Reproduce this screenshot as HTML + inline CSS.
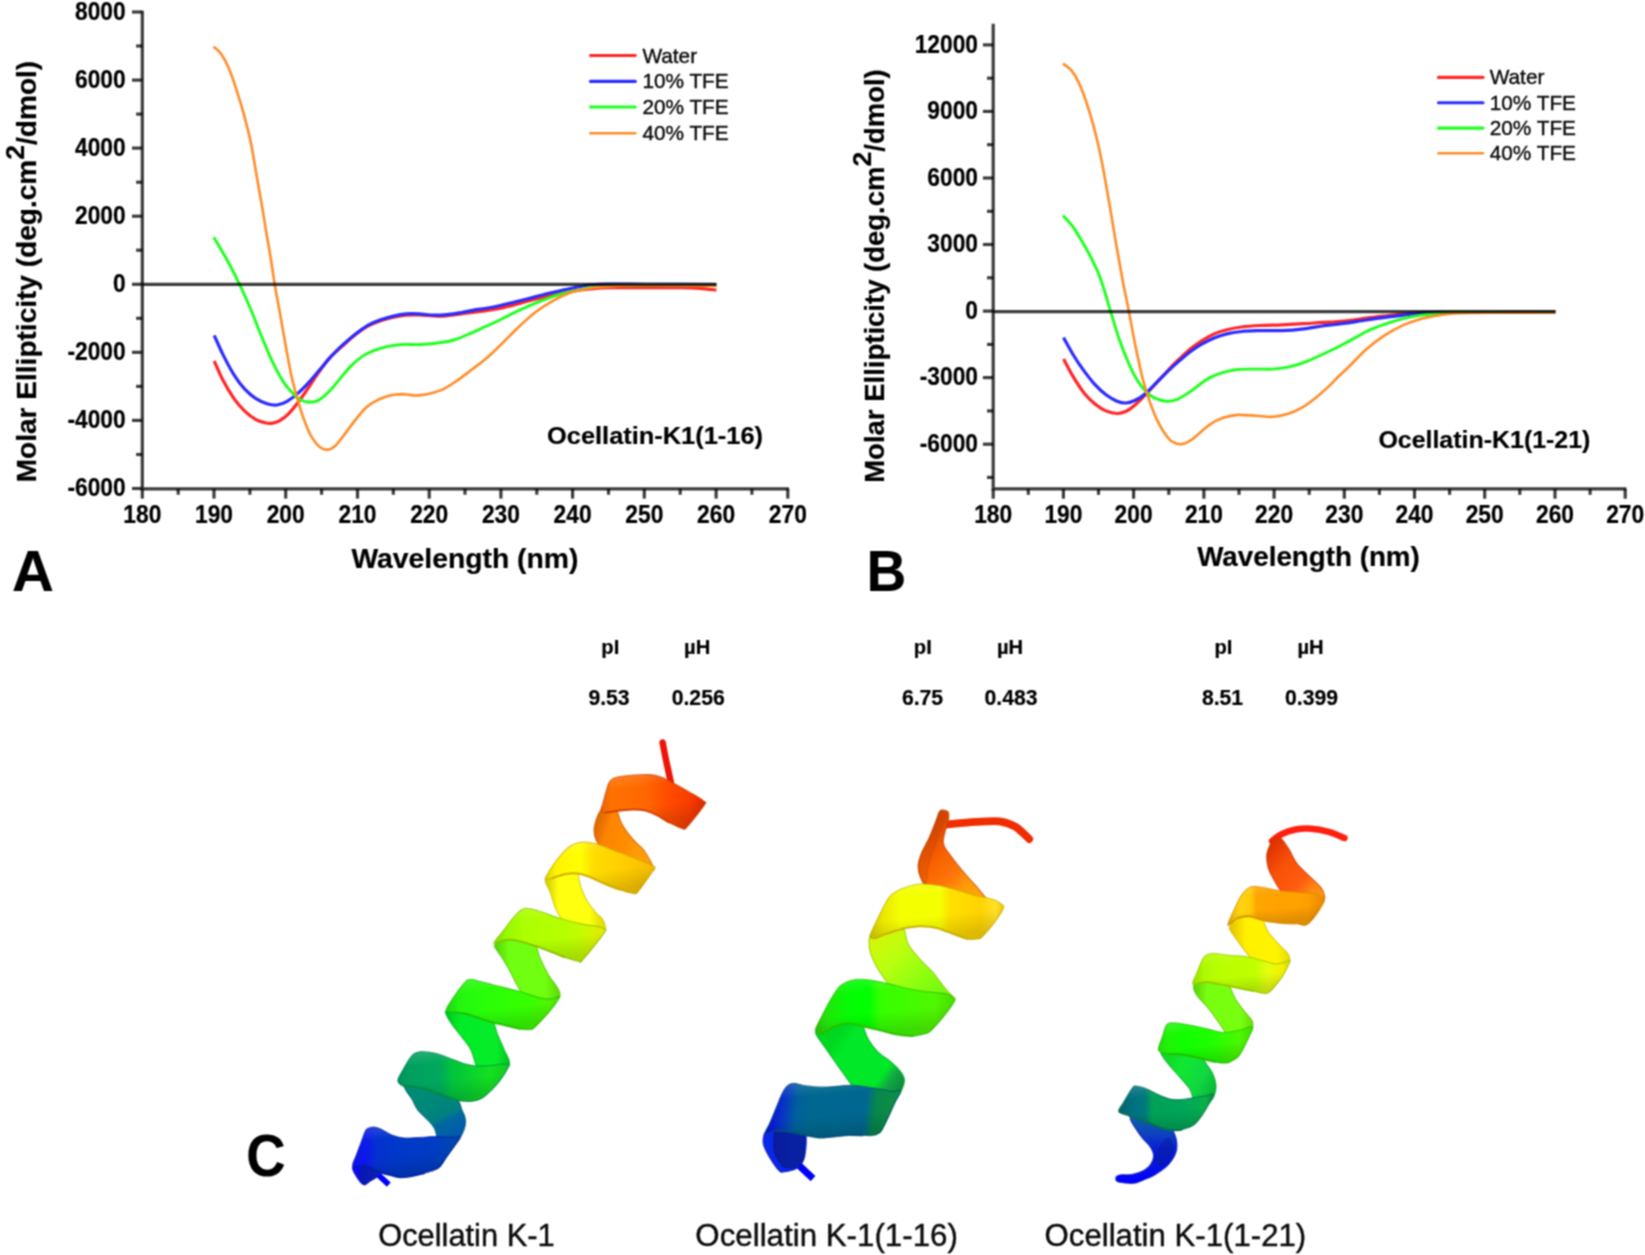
<!DOCTYPE html>
<html lang="en"><head><meta charset="utf-8"><title>CD spectra and helical models of ocellatin peptides</title>
<style>html,body{margin:0;padding:0;background:#fff}svg{display:block}text{font-family:"Liberation Sans",Arial,Helvetica,sans-serif}.b{font-weight:700;stroke:#000;stroke-width:0.2px}</style></head><body>
<svg width="1645" height="1255" viewBox="0 0 1645 1255">
<defs><filter id="soft" x="0" y="0" width="1645" height="1255" filterUnits="userSpaceOnUse" color-interpolation-filters="sRGB"><feConvolveMatrix order="3" kernelMatrix="1 2 1 2 4 2 1 2 1" divisor="16" edgeMode="duplicate" preserveAlpha="false"/></filter></defs>
<g filter="url(#soft)">
<rect width="1645" height="1255" fill="#fff"/>
<g id="chartA">
<g fill="none" stroke-width="3.2" stroke-linejoin="round" stroke-linecap="butt">
<path stroke="#ff2626" d="M214.2 361.0C215.7 364.2 219.7 374.0 223.0 380.3C226.3 386.6 230.3 393.4 234.0 398.6C237.7 403.8 241.3 407.9 245.0 411.4C248.7 414.9 252.7 417.8 256.0 419.7C259.4 421.6 262.5 422.2 265.1 422.8C267.7 423.4 269.1 423.7 271.5 423.3C273.9 422.9 276.9 422.3 279.8 420.6C282.7 418.9 285.9 416.4 289.0 413.3C292.1 410.2 295.1 406.3 298.1 402.3C301.2 398.3 303.9 394.3 307.3 389.4C310.7 384.5 314.6 378.1 318.3 372.9C322.0 367.7 325.3 362.7 329.3 358.3C333.3 353.9 337.8 350.3 342.1 346.4C346.4 342.5 350.6 338.4 354.9 335.0C359.2 331.6 363.5 328.6 367.8 326.2C372.1 323.8 376.3 322.2 380.6 320.7C384.9 319.2 389.1 318.2 393.4 317.3C397.7 316.4 401.9 315.6 406.2 315.2C410.5 314.8 414.5 314.9 419.1 315.0C423.7 315.1 429.1 315.9 433.7 316.0C438.3 316.1 441.9 316.1 446.5 315.8C451.1 315.5 456.3 314.7 461.2 314.0C466.1 313.3 471.9 312.3 475.9 311.8C479.9 311.3 481.3 311.3 485.0 310.8C488.7 310.3 493.0 309.9 498.3 308.8C503.6 307.7 510.5 305.8 516.6 304.2C522.7 302.6 528.9 300.8 535.0 299.3C541.1 297.8 547.2 296.3 553.3 295.0C559.4 293.7 565.5 292.4 571.6 291.4C577.7 290.4 583.9 289.6 590.0 289.0C596.1 288.4 599.1 287.9 608.3 287.7C617.4 287.5 632.7 287.7 644.9 287.7C657.1 287.7 672.4 287.6 681.6 287.7C690.8 287.8 694.2 287.9 700.0 288.3C705.8 288.7 713.7 289.8 716.4 290.1"/>
<path stroke="#2c2cff" d="M214.2 335.4C215.7 338.6 219.7 348.0 223.0 354.6C226.3 361.2 230.3 369.0 234.0 374.8C237.7 380.6 241.3 385.4 245.0 389.4C248.7 393.4 252.3 396.2 256.0 398.6C259.7 401.0 263.5 402.6 267.0 403.7C270.5 404.8 273.6 405.4 277.0 405.0C280.4 404.6 283.6 403.3 287.1 401.3C290.6 399.3 294.4 396.3 298.1 393.1C301.8 389.9 305.4 386.1 309.1 382.1C312.8 378.1 316.4 373.6 320.1 369.3C323.8 365.0 327.4 360.4 331.1 356.4C334.8 352.4 338.1 349.0 342.1 345.4C346.1 341.8 350.6 337.9 354.9 334.5C359.2 331.1 363.5 327.8 367.8 325.3C372.1 322.9 376.3 321.3 380.6 319.8C384.9 318.3 389.1 317.1 393.4 316.1C397.7 315.1 401.9 314.3 406.2 313.9C410.5 313.5 414.5 313.7 419.1 313.9C423.7 314.1 429.1 315.1 433.7 315.2C438.3 315.3 441.9 315.1 446.5 314.7C451.1 314.2 456.3 313.3 461.2 312.5C466.1 311.7 471.9 310.4 475.9 309.7C479.9 309.0 481.3 309.1 485.0 308.5C488.7 307.9 493.0 307.2 498.3 306.0C503.6 304.8 510.5 303.0 516.6 301.5C522.7 300.0 528.9 298.4 535.0 296.9C541.1 295.4 547.2 293.7 553.3 292.3C559.4 290.9 565.5 289.5 571.6 288.3C577.7 287.1 583.9 285.7 590.0 285.0C596.1 284.3 598.3 284.1 608.3 284.0C618.3 283.9 632.0 284.2 650.0 284.3C668.0 284.4 705.3 284.6 716.4 284.6"/>
<path stroke="#1eff1e" d="M213.8 237.3C216.0 241.0 222.4 251.5 226.7 259.3C231.0 267.1 235.5 276.1 239.5 284.4C243.5 292.6 246.8 300.1 250.5 308.8C254.2 317.5 257.8 327.5 261.5 336.3C265.2 345.1 268.8 354.3 272.5 361.9C276.2 369.5 280.1 376.9 283.5 382.1C286.9 387.3 289.9 390.2 292.6 393.1C295.4 396.0 297.2 398.0 300.0 399.5C302.8 401.0 306.1 402.2 309.1 402.3C312.2 402.4 314.9 402.2 318.3 400.4C321.7 398.6 325.6 395.0 329.3 391.3C333.0 387.6 336.6 382.7 340.3 378.4C344.0 374.1 347.6 369.3 351.3 365.6C355.0 361.9 358.7 358.8 362.3 356.4C365.9 353.9 368.9 352.6 373.2 350.9C377.5 349.2 383.0 347.5 387.9 346.4C392.8 345.3 397.1 344.8 402.6 344.5C408.1 344.2 414.8 344.8 420.9 344.5C427.0 344.2 433.7 343.4 439.2 342.7C444.7 341.9 448.4 341.7 453.9 340.0C459.4 338.3 467.0 334.8 472.2 332.6C477.4 330.4 480.6 328.8 485.0 326.8C489.4 324.8 493.0 323.2 498.3 320.7C503.6 318.1 510.5 314.4 516.6 311.5C522.7 308.6 528.9 305.8 535.0 303.3C541.1 300.8 547.2 298.3 553.3 296.3C559.4 294.3 565.5 292.8 571.6 291.4C577.7 290.0 583.9 288.6 590.0 287.7C596.1 286.8 599.1 286.3 608.3 285.9C617.4 285.4 632.9 285.1 644.9 285.0C656.9 284.9 668.1 285.1 680.0 285.2C691.9 285.3 710.3 285.4 716.4 285.5" stroke-width="2.9"/>
<path stroke="#ff8c28" d="M213.5 46.6C214.8 47.8 218.7 50.4 221.2 53.9C223.7 57.4 226.1 61.9 228.5 67.6C230.9 73.2 233.4 80.5 235.8 87.8C238.2 95.1 240.7 102.8 243.1 111.6C245.5 120.4 248.3 130.8 250.5 140.9C252.7 151.0 254.2 161.7 256.0 172.1C257.8 182.5 259.8 193.5 261.5 203.3C263.2 213.1 264.5 221.7 266.0 230.7C267.5 239.7 269.2 248.6 270.6 257.5C272.1 266.4 273.2 275.2 274.7 284.4C276.2 293.6 278.0 302.6 279.8 312.5C281.6 322.4 283.5 333.5 285.3 343.6C287.1 353.7 289.0 364.3 290.8 372.9C292.6 381.4 294.5 388.2 296.3 394.9C298.1 401.6 300.0 407.8 301.8 413.3C303.6 418.8 305.5 423.6 307.3 427.9C309.1 432.2 310.7 435.7 312.8 438.9C314.9 442.1 317.7 445.4 320.1 447.2C322.5 449.0 324.9 450.1 327.4 449.9C329.8 449.7 332.1 448.6 334.8 446.2C337.6 443.8 340.5 439.5 343.9 435.2C347.2 430.9 351.2 425.2 354.9 420.6C358.6 416.0 362.2 411.2 365.9 407.8C369.6 404.4 372.9 402.4 376.9 400.4C380.9 398.4 386.5 396.6 389.7 395.6C392.9 394.6 393.9 394.8 396.0 394.5C398.1 394.2 400.4 394.1 402.6 394.1C404.8 394.2 406.9 394.6 409.0 394.8C411.1 395.0 413.2 395.5 415.4 395.5C417.6 395.5 419.9 395.2 422.0 395.0C424.1 394.8 424.7 394.9 428.2 394.0C431.7 393.1 438.0 391.7 442.9 389.4C447.8 387.1 452.6 383.6 457.5 380.3C462.4 377.0 467.6 372.8 472.2 369.3C476.8 365.8 480.6 363.2 485.0 359.5C489.4 355.8 493.0 352.4 498.3 347.3C503.6 342.2 510.5 334.8 516.6 329.0C522.7 323.2 528.9 317.2 535.0 312.5C541.1 307.8 547.2 304.0 553.3 300.6C559.4 297.2 565.5 294.4 571.6 292.3C577.7 290.2 583.9 289.3 590.0 288.3C596.1 287.3 599.1 286.9 608.3 286.4C617.4 285.9 632.9 285.4 644.9 285.3C656.9 285.2 668.1 285.4 680.0 285.5C691.9 285.6 710.3 285.8 716.4 285.9" stroke-width="2.6"/>
</g>
<g stroke="#000" stroke-width="3.2" stroke-opacity="0.76" fill="none" stroke-linecap="butt">
<path d="M142.3 10.8 V488.8 H788.9"/>
<path d="M132.0 12.0H142.3"/>
<path d="M136.1 46.0H142.3"/>
<path d="M132.0 80.1H142.3"/>
<path d="M136.1 114.1H142.3"/>
<path d="M132.0 148.1H142.3"/>
<path d="M136.1 182.2H142.3"/>
<path d="M132.0 216.2H142.3"/>
<path d="M136.1 250.2H142.3"/>
<path d="M132.0 284.3H142.3"/>
<path d="M136.1 318.3H142.3"/>
<path d="M132.0 352.3H142.3"/>
<path d="M136.1 386.4H142.3"/>
<path d="M132.0 420.4H142.3"/>
<path d="M136.1 454.5H142.3"/>
<path d="M132.0 488.5H142.3"/>
<path d="M142.3 488.8V498.6"/>
<path d="M178.2 488.8V494.7"/>
<path d="M214.0 488.8V498.6"/>
<path d="M249.9 488.8V494.7"/>
<path d="M285.7 488.8V498.6"/>
<path d="M321.6 488.8V494.7"/>
<path d="M357.5 488.8V498.6"/>
<path d="M393.3 488.8V494.7"/>
<path d="M429.2 488.8V498.6"/>
<path d="M465.0 488.8V494.7"/>
<path d="M500.9 488.8V498.6"/>
<path d="M536.8 488.8V494.7"/>
<path d="M572.6 488.8V498.6"/>
<path d="M608.5 488.8V494.7"/>
<path d="M644.3 488.8V498.6"/>
<path d="M680.2 488.8V494.7"/>
<path d="M716.1 488.8V498.6"/>
<path d="M751.9 488.8V494.7"/>
<path d="M787.8 488.8V498.6"/>
<path d="M142.3 284.4H716.4" stroke-width="3.2"/>
</g>
<g class="b" font-size="22.8" fill="#000">
<text transform="translate(125.7 19.6) scale(1 1.13)" text-anchor="end">8000</text>
<text transform="translate(125.7 87.7) scale(1 1.13)" text-anchor="end">6000</text>
<text transform="translate(125.7 155.7) scale(1 1.13)" text-anchor="end">4000</text>
<text transform="translate(125.7 223.8) scale(1 1.13)" text-anchor="end">2000</text>
<text transform="translate(125.7 291.9) scale(1 1.13)" text-anchor="end">0</text>
<text transform="translate(125.7 359.9) scale(1 1.13)" text-anchor="end">-2000</text>
<text transform="translate(125.7 428.0) scale(1 1.13)" text-anchor="end">-4000</text>
<text transform="translate(125.7 496.1) scale(1 1.13)" text-anchor="end">-6000</text>
<text transform="translate(142.3 522.9) scale(1 1.10)" text-anchor="middle">180</text>
<text transform="translate(214.0 522.9) scale(1 1.10)" text-anchor="middle">190</text>
<text transform="translate(285.7 522.9) scale(1 1.10)" text-anchor="middle">200</text>
<text transform="translate(357.5 522.9) scale(1 1.10)" text-anchor="middle">210</text>
<text transform="translate(429.2 522.9) scale(1 1.10)" text-anchor="middle">220</text>
<text transform="translate(500.9 522.9) scale(1 1.10)" text-anchor="middle">230</text>
<text transform="translate(572.6 522.9) scale(1 1.10)" text-anchor="middle">240</text>
<text transform="translate(644.3 522.9) scale(1 1.10)" text-anchor="middle">250</text>
<text transform="translate(716.1 522.9) scale(1 1.10)" text-anchor="middle">260</text>
<text transform="translate(787.8 522.9) scale(1 1.10)" text-anchor="middle">270</text>
</g>
<g stroke-width="3.1" fill="none" stroke-linecap="round">
<path stroke="#ff2626" d="M590.5 55.5H635.3"/>
<path stroke="#2c2cff" d="M590.5 81.4H635.3"/>
<path stroke="#1eff1e" d="M590.5 107.0H635.3"/>
<path stroke="#ff8c28" d="M590.5 133.2H635.3" stroke-width="2.6"/>
</g><g font-size="20.8" fill="#0c0c0c" stroke="#0c0c0c" stroke-width="0.4">
<text x="642.4" y="62.8">Water</text>
<text x="642.4" y="88.4">10% TFE</text>
<text x="642.4" y="114.3">20% TFE</text>
<text x="642.4" y="140.2">40% TFE</text>
</g>
<text class="b" font-size="28.05" transform="translate(35.8 482.3) rotate(-90)">Molar Ellipticity (deg.cm<tspan font-size="26.5" dy="-12.3">2</tspan><tspan dy="12.3">/dmol)</tspan></text>
<text class="b" font-size="28.1" x="351.4" y="567.7" textLength="227" lengthAdjust="spacingAndGlyphs">Wavelength (nm)</text>
<text class="b" font-size="24" x="547" y="443.5" textLength="216" lengthAdjust="spacingAndGlyphs">Ocellatin-K1(1-16)</text>
<text class="b" font-size="58" x="11.9" y="590.9">A</text>
</g>
<g id="chartB">
<g fill="none" stroke-width="3.2" stroke-linejoin="round" stroke-linecap="butt">
<path stroke="#ff2626" d="M1063.5 359.0C1065.1 361.9 1069.6 370.8 1073.0 376.4C1076.4 382.0 1080.3 388.3 1084.0 392.9C1087.7 397.5 1091.3 400.9 1095.0 403.9C1098.7 406.9 1102.3 409.3 1106.0 410.9C1109.7 412.5 1113.7 413.4 1117.0 413.5C1120.3 413.6 1123.0 412.8 1126.1 411.3C1129.1 409.9 1131.9 407.7 1135.3 404.8C1138.7 401.9 1142.6 397.6 1146.3 393.8C1150.0 390.0 1153.6 385.9 1157.3 381.9C1161.0 377.9 1164.6 373.8 1168.3 370.0C1172.0 366.2 1175.6 362.5 1179.3 359.0C1183.0 355.5 1186.6 352.0 1190.3 349.0C1194.0 346.0 1197.3 343.6 1201.3 341.1C1205.3 338.6 1209.8 335.8 1214.1 333.9C1218.4 332.0 1222.3 330.8 1226.9 329.7C1231.5 328.6 1236.1 327.7 1241.6 327.0C1247.1 326.3 1253.2 325.9 1259.9 325.5C1266.6 325.1 1274.6 325.1 1281.9 324.8C1289.2 324.5 1297.2 324.1 1303.9 323.7C1310.6 323.3 1317.0 322.7 1322.2 322.4C1327.4 322.1 1330.7 322.2 1335.0 321.9C1339.3 321.6 1343.0 321.2 1348.3 320.6C1353.6 320.0 1360.5 319.0 1366.6 318.2C1372.7 317.4 1378.9 316.7 1385.0 316.0C1391.1 315.3 1397.2 314.6 1403.3 314.1C1409.4 313.6 1415.5 313.2 1421.6 312.9C1427.7 312.6 1428.6 312.4 1440.0 312.3C1451.4 312.2 1470.8 312.1 1490.0 312.0C1509.2 311.9 1544.5 311.9 1555.4 311.9"/>
<path stroke="#2c2cff" d="M1063.5 337.6C1065.1 340.4 1069.6 348.9 1073.0 354.5C1076.4 360.1 1080.3 365.9 1084.0 370.9C1087.7 375.9 1091.3 380.7 1095.0 384.7C1098.7 388.7 1102.3 392.1 1106.0 394.8C1109.7 397.6 1113.7 399.8 1117.0 401.2C1120.3 402.6 1123.0 403.1 1126.1 403.0C1129.1 402.9 1131.9 402.0 1135.3 400.3C1138.7 398.6 1142.6 396.0 1146.3 392.9C1150.0 389.8 1153.6 385.6 1157.3 381.9C1161.0 378.2 1164.6 374.4 1168.3 370.9C1172.0 367.4 1175.6 364.1 1179.3 360.9C1183.0 357.7 1186.6 354.4 1190.3 351.7C1194.0 348.9 1197.3 346.7 1201.3 344.4C1205.3 342.1 1209.8 339.8 1214.1 338.0C1218.4 336.2 1222.3 335.0 1226.9 333.9C1231.5 332.8 1236.1 332.1 1241.6 331.5C1247.1 330.9 1253.2 330.8 1259.9 330.6C1266.6 330.5 1274.6 330.9 1281.9 330.6C1289.2 330.3 1297.2 329.6 1303.9 328.8C1310.6 328.0 1317.0 326.7 1322.2 326.0C1327.4 325.3 1330.7 325.0 1335.0 324.5C1339.3 324.0 1343.0 323.6 1348.3 322.9C1353.6 322.1 1360.5 320.9 1366.6 320.0C1372.7 319.1 1378.9 318.2 1385.0 317.4C1391.1 316.6 1397.2 315.8 1403.3 315.1C1409.4 314.4 1415.5 313.7 1421.6 313.2C1427.7 312.7 1428.6 312.5 1440.0 312.3C1451.4 312.1 1470.8 312.1 1490.0 312.0C1509.2 311.9 1544.5 311.9 1555.4 311.9"/>
<path stroke="#1eff1e" d="M1062.9 215.4C1064.6 217.3 1069.8 222.5 1073.0 226.9C1076.2 231.3 1079.0 236.4 1082.1 241.6C1085.1 246.8 1088.5 252.7 1091.3 258.1C1094.0 263.5 1096.4 268.3 1098.6 273.8C1100.8 279.3 1102.5 284.7 1104.5 291.0C1106.5 297.3 1108.2 303.6 1110.6 311.4C1113.0 319.2 1115.9 329.6 1118.8 338.0C1121.7 346.4 1125.0 354.8 1128.0 361.8C1131.0 368.8 1134.0 375.1 1137.1 380.1C1140.1 385.1 1143.2 388.9 1146.3 392.0C1149.3 395.1 1152.1 396.9 1155.4 398.4C1158.8 399.9 1162.7 401.0 1166.4 401.2C1170.1 401.4 1173.7 400.7 1177.4 399.3C1181.1 397.9 1184.7 395.3 1188.4 392.9C1192.1 390.5 1195.7 387.3 1199.4 384.7C1203.1 382.1 1206.4 379.4 1210.4 377.4C1214.4 375.3 1218.6 373.7 1223.2 372.4C1227.8 371.1 1232.4 370.1 1237.9 369.5C1243.4 368.9 1250.4 369.2 1256.2 369.1C1262.0 369.0 1267.2 369.5 1272.7 369.1C1278.2 368.7 1283.7 368.1 1289.2 366.9C1294.7 365.7 1300.2 363.9 1305.7 361.8C1311.2 359.7 1317.3 356.7 1322.2 354.5C1327.1 352.3 1330.7 350.6 1335.0 348.5C1339.3 346.4 1343.0 344.4 1348.3 341.6C1353.6 338.8 1360.5 334.4 1366.6 331.5C1372.7 328.6 1378.9 326.3 1385.0 324.2C1391.1 322.1 1397.2 320.2 1403.3 318.7C1409.4 317.2 1415.5 316.0 1421.6 315.1C1427.7 314.2 1433.9 313.7 1440.0 313.2C1446.1 312.7 1448.3 312.4 1458.3 312.3C1468.3 312.2 1483.8 312.3 1500.0 312.3C1516.2 312.3 1546.2 312.3 1555.4 312.3" stroke-width="2.9"/>
<path stroke="#ff8c28" d="M1062.9 63.5C1064.3 64.6 1068.6 67.1 1071.2 70.2C1073.8 73.3 1076.1 77.0 1078.5 82.1C1080.9 87.1 1083.4 93.5 1085.8 100.5C1088.2 107.5 1091.0 116.7 1093.1 124.3C1095.2 131.9 1096.8 138.1 1098.6 146.3C1100.4 154.6 1102.3 164.0 1104.1 173.8C1105.9 183.6 1107.8 194.2 1109.6 204.9C1111.4 215.6 1113.3 227.2 1115.1 237.9C1116.9 248.6 1119.2 261.1 1120.6 269.1C1122.0 277.1 1122.3 278.9 1123.7 286.0C1125.1 293.1 1127.0 301.5 1128.9 311.4C1130.8 321.3 1133.0 334.1 1135.3 345.3C1137.6 356.5 1140.2 368.8 1142.6 378.3C1145.0 387.8 1147.5 395.1 1149.9 402.1C1152.4 409.1 1154.8 415.2 1157.3 420.4C1159.8 425.6 1162.2 429.7 1164.6 433.2C1167.0 436.7 1169.2 439.7 1171.9 441.5C1174.7 443.3 1178.0 444.3 1181.1 444.2C1184.2 444.1 1187.2 442.4 1190.3 440.6C1193.3 438.8 1196.1 435.9 1199.4 433.2C1202.8 430.4 1206.4 426.7 1210.4 424.1C1214.4 421.5 1218.6 419.2 1223.2 417.7C1227.8 416.2 1232.4 415.2 1237.9 414.9C1243.4 414.6 1250.4 415.5 1256.2 415.8C1262.0 416.1 1267.5 417.1 1272.7 416.8C1277.9 416.5 1282.5 415.5 1287.4 414.0C1292.3 412.5 1297.4 410.2 1302.0 407.6C1306.6 405.0 1310.6 401.8 1314.9 398.4C1319.2 395.0 1323.9 391.0 1327.7 387.4C1331.5 383.8 1334.6 380.4 1338.0 377.0C1341.4 373.6 1343.5 372.0 1348.3 367.3C1353.1 362.6 1360.5 354.4 1366.6 349.0C1372.7 343.6 1378.9 339.2 1385.0 335.2C1391.1 331.2 1397.2 327.9 1403.3 325.1C1409.4 322.4 1415.5 320.4 1421.6 318.7C1427.7 317.0 1433.9 316.0 1440.0 315.1C1446.1 314.2 1449.1 313.6 1458.3 313.2C1467.5 312.8 1478.7 312.8 1494.9 312.7C1511.1 312.6 1545.3 312.7 1555.4 312.7" stroke-width="2.6"/>
</g>
<g stroke="#000" stroke-width="3.2" stroke-opacity="0.76" fill="none" stroke-linecap="butt">
<path d="M993.2 23.8 V488.9 H1626.4"/>
<path d="M982.9 44.9H993.2"/>
<path d="M987.0 78.2H993.2"/>
<path d="M982.9 111.4H993.2"/>
<path d="M987.0 144.7H993.2"/>
<path d="M982.9 178.0H993.2"/>
<path d="M987.0 211.3H993.2"/>
<path d="M982.9 244.5H993.2"/>
<path d="M987.0 277.8H993.2"/>
<path d="M982.9 311.1H993.2"/>
<path d="M987.0 344.4H993.2"/>
<path d="M982.9 377.6H993.2"/>
<path d="M987.0 410.9H993.2"/>
<path d="M982.9 444.2H993.2"/>
<path d="M987.0 477.4H993.2"/>
<path d="M993.2 488.9V498.7"/>
<path d="M1028.3 488.9V494.8"/>
<path d="M1063.4 488.9V498.7"/>
<path d="M1098.5 488.9V494.8"/>
<path d="M1133.6 488.9V498.7"/>
<path d="M1168.8 488.9V494.8"/>
<path d="M1203.9 488.9V498.7"/>
<path d="M1239.0 488.9V494.8"/>
<path d="M1274.1 488.9V498.7"/>
<path d="M1309.2 488.9V494.8"/>
<path d="M1344.3 488.9V498.7"/>
<path d="M1379.4 488.9V494.8"/>
<path d="M1414.5 488.9V498.7"/>
<path d="M1449.6 488.9V494.8"/>
<path d="M1484.7 488.9V498.7"/>
<path d="M1519.8 488.9V494.8"/>
<path d="M1555.0 488.9V498.7"/>
<path d="M1590.1 488.9V494.8"/>
<path d="M1625.2 488.9V498.7"/>
<path d="M993.2 311.6H1555.4" stroke-width="3.2"/>
</g>
<g class="b" font-size="22.8" fill="#000">
<text transform="translate(978.0 52.5) scale(1 1.13)" text-anchor="end">12000</text>
<text transform="translate(978.0 119.0) scale(1 1.13)" text-anchor="end">9000</text>
<text transform="translate(978.0 185.6) scale(1 1.13)" text-anchor="end">6000</text>
<text transform="translate(978.0 252.1) scale(1 1.13)" text-anchor="end">3000</text>
<text transform="translate(978.0 318.7) scale(1 1.13)" text-anchor="end">0</text>
<text transform="translate(978.0 385.2) scale(1 1.13)" text-anchor="end">-3000</text>
<text transform="translate(978.0 451.8) scale(1 1.13)" text-anchor="end">-6000</text>
<text transform="translate(993.2 522.9) scale(1 1.10)" text-anchor="middle">180</text>
<text transform="translate(1063.4 522.9) scale(1 1.10)" text-anchor="middle">190</text>
<text transform="translate(1133.6 522.9) scale(1 1.10)" text-anchor="middle">200</text>
<text transform="translate(1203.9 522.9) scale(1 1.10)" text-anchor="middle">210</text>
<text transform="translate(1274.1 522.9) scale(1 1.10)" text-anchor="middle">220</text>
<text transform="translate(1344.3 522.9) scale(1 1.10)" text-anchor="middle">230</text>
<text transform="translate(1414.5 522.9) scale(1 1.10)" text-anchor="middle">240</text>
<text transform="translate(1484.7 522.9) scale(1 1.10)" text-anchor="middle">250</text>
<text transform="translate(1555.0 522.9) scale(1 1.10)" text-anchor="middle">260</text>
<text transform="translate(1625.2 522.9) scale(1 1.10)" text-anchor="middle">270</text>
</g>
<g stroke-width="3.1" fill="none" stroke-linecap="round">
<path stroke="#ff2626" d="M1438.5 77.4H1483.0"/>
<path stroke="#2c2cff" d="M1438.5 102.8H1483.0"/>
<path stroke="#1eff1e" d="M1438.5 128.1H1483.0"/>
<path stroke="#ff8c28" d="M1438.5 153.2H1483.0" stroke-width="2.6"/>
</g><g font-size="20.8" fill="#0c0c0c" stroke="#0c0c0c" stroke-width="0.4">
<text x="1489.7" y="84.3">Water</text>
<text x="1489.7" y="109.8">10% TFE</text>
<text x="1489.7" y="135.4">20% TFE</text>
<text x="1489.7" y="160.4">40% TFE</text>
</g>
<text class="b" font-size="27.50" transform="translate(883.6 482.8) rotate(-90)">Molar Ellipticity (deg.cm<tspan font-size="26.5" dy="-12.3">2</tspan><tspan dy="12.3">/dmol)</tspan></text>
<text class="b" font-size="27.7" x="1197.2" y="566.4" textLength="222.6" lengthAdjust="spacingAndGlyphs">Wavelength (nm)</text>
<text class="b" font-size="24" x="1378.4" y="448.2" textLength="212" lengthAdjust="spacingAndGlyphs">Ocellatin-K1(1-21)</text>
<text class="b" font-size="58" transform="translate(866.6 590.9) scale(0.95 1)">B</text>
</g>
<defs><linearGradient id="g1" gradientUnits="userSpaceOnUse" x1="596.0" y1="830.0" x2="640.0" y2="845.0"><stop offset="0.000" stop-color="#e06c00"/><stop offset="0.250" stop-color="#ff8400"/><stop offset="0.700" stop-color="#ff8c00"/><stop offset="1.000" stop-color="#ff9c08"/></linearGradient><linearGradient id="g2" gradientUnits="userSpaceOnUse" x1="548.0" y1="900.0" x2="600.0" y2="900.0"><stop offset="0.000" stop-color="#d8d400"/><stop offset="0.200" stop-color="#ffff10"/><stop offset="0.800" stop-color="#ffff10"/><stop offset="1.000" stop-color="#e4e000"/></linearGradient><linearGradient id="g3" gradientUnits="userSpaceOnUse" x1="497.0" y1="970.0" x2="557.0" y2="970.0"><stop offset="0.000" stop-color="#58d808"/><stop offset="0.200" stop-color="#70ff10"/><stop offset="0.800" stop-color="#70ff10"/><stop offset="1.000" stop-color="#60e008"/></linearGradient><linearGradient id="g4" gradientUnits="userSpaceOnUse" x1="448.0" y1="1040.0" x2="508.0" y2="1040.0"><stop offset="0.000" stop-color="#00c820"/><stop offset="0.200" stop-color="#00ec28"/><stop offset="0.800" stop-color="#08ec28"/><stop offset="1.000" stop-color="#00c828"/></linearGradient><linearGradient id="g5" gradientUnits="userSpaceOnUse" x1="425.0" y1="1092.0" x2="455.0" y2="1150.0"><stop offset="0.000" stop-color="#008c74"/><stop offset="0.450" stop-color="#008080"/><stop offset="0.550" stop-color="#0068a0"/><stop offset="1.000" stop-color="#0050b0"/></linearGradient><linearGradient id="g6" gradientUnits="userSpaceOnUse" x1="601.0" y1="0.0" x2="705.0" y2="0.0"><stop offset="0.000" stop-color="#e86800"/><stop offset="0.106" stop-color="#ff7000"/><stop offset="0.423" stop-color="#ff6800"/><stop offset="0.644" stop-color="#ff4c00"/><stop offset="0.856" stop-color="#fa3c00"/><stop offset="1.000" stop-color="#e02800"/></linearGradient><linearGradient id="g7" gradientUnits="userSpaceOnUse" x1="544.0" y1="0.0" x2="655.0" y2="0.0"><stop offset="0.000" stop-color="#d8cc00"/><stop offset="0.108" stop-color="#fff400"/><stop offset="0.324" stop-color="#ffff00"/><stop offset="0.450" stop-color="#ffdc00"/><stop offset="0.730" stop-color="#ffcc00"/><stop offset="1.000" stop-color="#f4bc00"/></linearGradient><linearGradient id="g8" gradientUnits="userSpaceOnUse" x1="493.0" y1="0.0" x2="606.0" y2="0.0"><stop offset="0.000" stop-color="#78d800"/><stop offset="0.115" stop-color="#98f800"/><stop offset="0.283" stop-color="#acff00"/><stop offset="0.681" stop-color="#b8ff00"/><stop offset="0.858" stop-color="#d0f800"/><stop offset="1.000" stop-color="#e8e400"/></linearGradient><linearGradient id="g9" gradientUnits="userSpaceOnUse" x1="445.0" y1="0.0" x2="561.0" y2="0.0"><stop offset="0.000" stop-color="#18d018"/><stop offset="0.112" stop-color="#24f410"/><stop offset="0.345" stop-color="#28ff08"/><stop offset="0.733" stop-color="#38ff00"/><stop offset="0.905" stop-color="#50f400"/><stop offset="1.000" stop-color="#48d800"/></linearGradient><linearGradient id="g10" gradientUnits="userSpaceOnUse" x1="397.0" y1="0.0" x2="510.0" y2="0.0"><stop offset="0.000" stop-color="#008c5c"/><stop offset="0.115" stop-color="#00a060"/><stop offset="0.381" stop-color="#00a85c"/><stop offset="0.487" stop-color="#00c43c"/><stop offset="0.823" stop-color="#14e020"/><stop offset="1.000" stop-color="#10c820"/></linearGradient><linearGradient id="g11" gradientUnits="userSpaceOnUse" x1="351.0" y1="0.0" x2="381.0" y2="0.0"><stop offset="0.000" stop-color="#0c0cf0"/><stop offset="0.267" stop-color="#0a0ae8"/><stop offset="0.350" stop-color="#0818b0"/><stop offset="1.000" stop-color="#0820b8"/></linearGradient><linearGradient id="g12" gradientUnits="userSpaceOnUse" x1="352.0" y1="0.0" x2="462.0" y2="0.0"><stop offset="0.000" stop-color="#1010f0"/><stop offset="0.145" stop-color="#0a1ce8"/><stop offset="0.218" stop-color="#0430d0"/><stop offset="0.391" stop-color="#0038c8"/><stop offset="0.755" stop-color="#003cc4"/><stop offset="0.891" stop-color="#0044b0"/><stop offset="1.000" stop-color="#004898"/></linearGradient><linearGradient id="g13" gradientUnits="userSpaceOnUse" x1="925.0" y1="832.0" x2="985.0" y2="900.0"><stop offset="0.000" stop-color="#d84400"/><stop offset="0.300" stop-color="#f86000"/><stop offset="0.550" stop-color="#ff7408"/><stop offset="0.750" stop-color="#ff9c08"/><stop offset="1.000" stop-color="#ffa808"/></linearGradient><linearGradient id="g14" gradientUnits="userSpaceOnUse" x1="0.0" y1="810.0" x2="0.0" y2="885.0"><stop offset="0.000" stop-color="#c84000"/><stop offset="1.000" stop-color="#e05800"/></linearGradient><linearGradient id="g15" gradientUnits="userSpaceOnUse" x1="882.0" y1="935.0" x2="935.0" y2="995.0"><stop offset="0.000" stop-color="#d0f808"/><stop offset="0.350" stop-color="#b8ff10"/><stop offset="0.700" stop-color="#90ff10"/><stop offset="1.000" stop-color="#78f810"/></linearGradient><linearGradient id="g16" gradientUnits="userSpaceOnUse" x1="835.0" y1="1040.0" x2="905.0" y2="1090.0"><stop offset="0.000" stop-color="#00d820"/><stop offset="0.150" stop-color="#00e828"/><stop offset="0.680" stop-color="#00e828"/><stop offset="0.800" stop-color="#10a840"/><stop offset="1.000" stop-color="#0c8040"/></linearGradient><linearGradient id="g17" gradientUnits="userSpaceOnUse" x1="763.0" y1="0.0" x2="806.0" y2="0.0"><stop offset="0.000" stop-color="#0a28ec"/><stop offset="1.000" stop-color="#0a24e0"/></linearGradient><linearGradient id="g18" gradientUnits="userSpaceOnUse" x1="774.0" y1="0.0" x2="806.0" y2="0.0"><stop offset="0.000" stop-color="#0a1c98"/><stop offset="0.500" stop-color="#0820a4"/><stop offset="1.000" stop-color="#0a20a0"/></linearGradient><linearGradient id="g19" gradientUnits="userSpaceOnUse" x1="869.0" y1="0.0" x2="1005.0" y2="0.0"><stop offset="0.000" stop-color="#d0c800"/><stop offset="0.110" stop-color="#ece800"/><stop offset="0.228" stop-color="#f4ff00"/><stop offset="0.522" stop-color="#f4ff00"/><stop offset="0.596" stop-color="#ffe000"/><stop offset="0.816" stop-color="#ffd400"/><stop offset="0.934" stop-color="#ffe028"/><stop offset="1.000" stop-color="#e8c000"/></linearGradient><linearGradient id="g20" gradientUnits="userSpaceOnUse" x1="814.0" y1="0.0" x2="956.0" y2="0.0"><stop offset="0.000" stop-color="#30c010"/><stop offset="0.099" stop-color="#20e808"/><stop offset="0.254" stop-color="#04fc04"/><stop offset="0.380" stop-color="#00ff00"/><stop offset="0.465" stop-color="#34ff00"/><stop offset="0.852" stop-color="#50f800"/><stop offset="1.000" stop-color="#48d800"/></linearGradient><linearGradient id="g21" gradientUnits="userSpaceOnUse" x1="770.0" y1="1110.0" x2="900.0" y2="1126.0"><stop offset="0.000" stop-color="#0810d8"/><stop offset="0.090" stop-color="#0830c8"/><stop offset="0.200" stop-color="#00609c"/><stop offset="0.300" stop-color="#006890"/><stop offset="0.720" stop-color="#006890"/><stop offset="0.800" stop-color="#08884c"/><stop offset="1.000" stop-color="#109040"/></linearGradient><linearGradient id="g22" gradientUnits="userSpaceOnUse" x1="1270.0" y1="848.0" x2="1322.0" y2="895.0"><stop offset="0.000" stop-color="#e03400"/><stop offset="0.300" stop-color="#f85008"/><stop offset="0.650" stop-color="#ff5c10"/><stop offset="0.850" stop-color="#ff8810"/><stop offset="1.000" stop-color="#ff9810"/></linearGradient><linearGradient id="g23" gradientUnits="userSpaceOnUse" x1="1232.0" y1="940.0" x2="1288.0" y2="940.0"><stop offset="0.000" stop-color="#e8c800"/><stop offset="0.250" stop-color="#fff000"/><stop offset="0.800" stop-color="#fff400"/><stop offset="1.000" stop-color="#e8e000"/></linearGradient><linearGradient id="g24" gradientUnits="userSpaceOnUse" x1="1196.0" y1="1005.0" x2="1252.0" y2="1005.0"><stop offset="0.000" stop-color="#60d808"/><stop offset="0.200" stop-color="#78ff10"/><stop offset="0.800" stop-color="#78ff10"/><stop offset="1.000" stop-color="#68e008"/></linearGradient><linearGradient id="g25" gradientUnits="userSpaceOnUse" x1="1165.0" y1="1060.0" x2="1215.0" y2="1090.0"><stop offset="0.000" stop-color="#10d828"/><stop offset="0.300" stop-color="#10e830"/><stop offset="0.700" stop-color="#10d840"/><stop offset="1.000" stop-color="#08b838"/></linearGradient><linearGradient id="g26" gradientUnits="userSpaceOnUse" x1="0.0" y1="1117.0" x2="0.0" y2="1180.0"><stop offset="0.000" stop-color="#1060a8"/><stop offset="0.286" stop-color="#0c40c0"/><stop offset="0.492" stop-color="#0820d4"/><stop offset="0.762" stop-color="#0414e0"/><stop offset="1.000" stop-color="#0000ff"/></linearGradient><linearGradient id="g27" gradientUnits="userSpaceOnUse" x1="0.0" y1="1138.0" x2="0.0" y2="1168.0"><stop offset="0.000" stop-color="#0a209c"/><stop offset="1.000" stop-color="#0818a8"/></linearGradient><linearGradient id="g28" gradientUnits="userSpaceOnUse" x1="1227.0" y1="0.0" x2="1325.0" y2="0.0"><stop offset="0.000" stop-color="#e8b400"/><stop offset="0.133" stop-color="#ffd410"/><stop offset="0.235" stop-color="#ffcc08"/><stop offset="0.306" stop-color="#ffa400"/><stop offset="0.827" stop-color="#ffa000"/><stop offset="1.000" stop-color="#e88400"/></linearGradient><linearGradient id="g29" gradientUnits="userSpaceOnUse" x1="1192.0" y1="0.0" x2="1291.0" y2="0.0"><stop offset="0.000" stop-color="#90e000"/><stop offset="0.121" stop-color="#b0f800"/><stop offset="0.283" stop-color="#b8ff00"/><stop offset="0.636" stop-color="#c0ff00"/><stop offset="0.768" stop-color="#e4ff10"/><stop offset="0.909" stop-color="#f4f000"/><stop offset="1.000" stop-color="#d8d000"/></linearGradient><linearGradient id="g30" gradientUnits="userSpaceOnUse" x1="1158.0" y1="0.0" x2="1254.0" y2="0.0"><stop offset="0.000" stop-color="#28d810"/><stop offset="0.104" stop-color="#20f408"/><stop offset="0.281" stop-color="#10ff00"/><stop offset="0.562" stop-color="#20ff00"/><stop offset="0.854" stop-color="#4cf800"/><stop offset="1.000" stop-color="#44d800"/></linearGradient><linearGradient id="g31" gradientUnits="userSpaceOnUse" x1="1118.0" y1="0.0" x2="1214.0" y2="0.0"><stop offset="0.000" stop-color="#086068"/><stop offset="0.146" stop-color="#007080"/><stop offset="0.281" stop-color="#00787c"/><stop offset="0.354" stop-color="#00a058"/><stop offset="0.729" stop-color="#00a858"/><stop offset="0.906" stop-color="#08b048"/><stop offset="1.000" stop-color="#089040"/></linearGradient><linearGradient id="shv" x1="0" y1="0" x2="0.25" y2="1"><stop offset="0" stop-color="#fff" stop-opacity="0.16"/><stop offset="0.3" stop-color="#fff" stop-opacity="0"/><stop offset="0.65" stop-color="#000" stop-opacity="0"/><stop offset="1" stop-color="#000" stop-opacity="0.13"/></linearGradient></defs>
<g id="helices"><g stroke-linejoin="round">
<path d="M662.6 742.5C663.2 745.4 664.6 753.4 666.0 760.0C667.4 766.6 670.0 778.3 670.8 782.0" fill="none" stroke="#ee1408" stroke-width="6.5" stroke-linecap="round"/>
<path d="M600.3 810.6C598.2 813.8 596.5 818.3 595.5 821.7C594.5 825.1 593.9 827.9 594.0 831.0C594.1 834.1 594.8 837.3 596.3 840.6C597.8 843.9 600.7 847.9 603.0 851.0C605.3 854.1 604.9 855.7 610.0 859.0C615.1 862.3 628.5 868.5 633.3 870.7C638.1 872.8 635.9 871.7 639.0 871.7C642.1 871.6 649.6 871.0 652.0 870.3C654.4 869.6 654.9 870.8 653.5 867.4C652.2 864.0 646.5 853.9 643.8 850.0C641.1 846.1 639.8 846.3 637.4 843.8C635.0 841.3 632.1 838.5 629.5 835.1C626.9 831.7 623.7 827.3 621.6 823.2C619.5 819.1 618.6 813.9 616.9 810.5C615.2 807.1 613.1 803.9 611.6 802.5C610.2 801.1 609.9 800.9 608.0 802.2C606.1 803.6 602.4 807.4 600.3 810.6Z" fill="url(#g1)" stroke="#c85800" stroke-opacity="0.7" stroke-width="1.2"/>
<path d="M546.8 878.0C544.4 880.5 545.1 880.3 545.7 882.6C546.2 884.9 548.5 888.0 550.0 891.9C551.5 895.8 553.1 902.2 554.7 906.2C556.3 910.2 557.9 912.8 559.5 915.8C561.1 918.8 562.9 922.3 564.5 924.4C566.0 926.5 565.3 926.4 568.8 928.1C572.2 929.9 581.5 933.7 585.2 934.9C588.9 936.0 587.8 935.7 590.9 935.1C593.9 934.4 601.2 932.2 603.6 930.9C606.1 929.6 605.7 929.2 605.5 927.2C605.3 925.2 604.0 921.3 602.5 919.0C601.0 916.7 599.1 916.4 596.5 913.3C593.9 910.2 589.5 905.0 586.9 900.5C584.2 896.0 582.1 890.5 580.6 886.2C579.1 881.9 579.1 877.5 578.1 874.9C577.1 872.4 576.8 872.2 574.6 870.9C572.4 869.6 567.3 867.6 564.8 867.1C562.3 866.6 562.7 866.0 559.6 867.9C556.6 869.7 549.1 875.6 546.8 878.0Z" fill="url(#g2)" stroke="#c8c000" stroke-opacity="0.7" stroke-width="1.2"/>
<path d="M495.9 943.7C493.2 946.0 494.3 945.8 495.1 947.8C495.9 949.7 498.4 952.2 500.6 955.6C502.8 959.0 506.1 964.1 508.5 968.4C510.9 972.6 513.0 977.5 514.9 981.1C516.8 984.7 518.3 987.3 519.7 989.9C521.1 992.5 522.2 994.7 523.5 996.4C524.8 998.1 524.6 998.5 527.7 1000.2C530.9 1002.0 539.0 1005.8 542.3 1006.8C545.5 1007.8 544.6 1007.7 547.4 1006.2C550.1 1004.6 556.7 999.6 558.7 997.3C560.8 995.1 560.2 994.7 559.8 992.8C559.4 990.9 558.2 988.9 556.3 985.9C554.4 982.9 551.0 979.2 548.4 974.7C545.8 970.2 542.4 963.4 540.4 958.8C538.4 954.2 537.8 949.6 536.5 946.9C535.3 944.1 536.3 944.8 533.0 942.5C529.7 940.3 520.2 934.9 516.6 933.5C513.0 932.0 514.9 931.9 511.5 933.6C508.0 935.3 498.6 941.3 495.9 943.7Z" fill="url(#g3)" stroke="#50c000" stroke-opacity="0.7" stroke-width="1.2"/>
<path d="M447.2 1010.2C444.0 1011.9 445.2 1011.5 445.9 1013.8C446.6 1016.1 448.8 1019.8 451.6 1023.9C454.4 1028.0 459.5 1034.0 462.7 1038.2C465.9 1042.5 468.6 1045.2 470.7 1049.4C472.8 1053.7 474.3 1060.4 475.5 1063.7C476.7 1067.0 476.8 1067.7 477.8 1069.2C478.9 1070.7 479.1 1071.6 481.9 1072.6C484.8 1073.6 492.0 1075.2 495.1 1075.4C498.1 1075.6 497.9 1075.5 500.1 1073.9C502.4 1072.3 506.8 1068.0 508.4 1065.8C509.9 1063.6 510.0 1063.7 509.3 1061.0C508.6 1058.2 506.0 1053.7 504.1 1049.4C502.2 1045.1 499.9 1040.0 497.8 1035.1C495.7 1030.2 496.0 1025.1 491.4 1020.0C486.8 1014.9 474.8 1007.4 470.4 1004.8C466.1 1002.1 469.0 1003.1 465.2 1004.0C461.3 1004.9 450.4 1008.6 447.2 1010.2Z" fill="url(#g4)" stroke="#00b018" stroke-opacity="0.7" stroke-width="1.2"/>
<path d="M406.6 1086.1C403.0 1087.6 404.5 1087.3 405.4 1089.4C406.2 1091.5 409.6 1095.4 411.7 1098.8C413.8 1102.2 415.0 1106.4 417.7 1110.0C420.4 1113.6 425.2 1117.3 428.0 1120.3C430.8 1123.3 432.9 1125.5 434.3 1128.2C435.8 1130.9 436.1 1133.7 436.7 1136.5C437.3 1139.3 437.5 1140.4 438.0 1145.0C438.5 1149.6 439.0 1160.7 439.6 1163.9C440.2 1167.1 440.5 1165.5 441.6 1164.4C442.7 1163.3 444.1 1160.4 446.2 1157.4C448.3 1154.4 451.6 1150.0 454.1 1146.4C456.6 1142.9 459.4 1139.5 461.2 1136.1C463.0 1132.7 464.5 1128.8 465.2 1125.8C465.9 1122.8 465.7 1120.5 465.2 1117.9C464.7 1115.3 463.5 1113.3 462.0 1110.0C460.5 1106.7 461.2 1102.7 456.3 1098.0C451.4 1093.3 437.3 1084.6 432.5 1081.7C427.6 1078.8 431.4 1080.0 427.1 1080.8C422.8 1081.5 410.2 1084.7 406.6 1086.1Z" fill="url(#g5)" stroke="#005880" stroke-opacity="0.7" stroke-width="1.2"/>
<path d="M602.5 811.9C601.7 811.3 601.2 809.9 601.2 808.6C601.2 807.4 601.8 807.1 602.6 804.3C603.4 801.5 604.8 795.8 606.0 792.0C607.2 788.2 607.8 783.8 609.8 781.3C611.8 778.8 613.8 778.0 617.7 777.0C621.7 776.0 628.2 775.4 633.5 775.0C638.8 774.6 644.7 774.3 649.3 774.6C653.9 774.9 657.1 775.6 661.1 777.0C665.1 778.4 667.7 780.1 673.0 782.9C678.3 785.7 687.7 791.0 692.8 794.0C697.9 797.0 701.8 799.2 703.7 801.1C705.6 802.9 707.2 800.7 704.3 805.1C701.5 809.4 690.5 823.4 686.8 827.2C683.1 831.1 685.1 829.2 682.2 828.4C679.2 827.6 673.2 824.7 669.0 822.5C664.8 820.3 661.2 817.3 657.2 815.3C653.2 813.3 649.2 811.6 645.3 810.6C641.3 809.6 637.7 809.4 633.5 809.4C629.3 809.4 624.6 810.1 620.0 810.6C615.4 811.1 608.7 812.4 605.8 812.6C602.9 812.8 603.3 812.6 602.5 811.9Z" fill="url(#g6)" stroke="#d04000" stroke-opacity="0.7" stroke-width="1.2"/>
<path d="M602.5 811.9C601.7 811.3 601.2 809.9 601.2 808.6C601.2 807.4 601.8 807.1 602.6 804.3C603.4 801.5 604.8 795.8 606.0 792.0C607.2 788.2 607.8 783.8 609.8 781.3C611.8 778.8 613.8 778.0 617.7 777.0C621.7 776.0 628.2 775.4 633.5 775.0C638.8 774.6 644.7 774.3 649.3 774.6C653.9 774.9 657.1 775.6 661.1 777.0C665.1 778.4 667.7 780.1 673.0 782.9C678.3 785.7 687.7 791.0 692.8 794.0C697.9 797.0 701.8 799.2 703.7 801.1C705.6 802.9 707.2 800.7 704.3 805.1C701.5 809.4 690.5 823.4 686.8 827.2C683.1 831.1 685.1 829.2 682.2 828.4C679.2 827.6 673.2 824.7 669.0 822.5C664.8 820.3 661.2 817.3 657.2 815.3C653.2 813.3 649.2 811.6 645.3 810.6C641.3 809.6 637.7 809.4 633.5 809.4C629.3 809.4 624.6 810.1 620.0 810.6C615.4 811.1 608.7 812.4 605.8 812.6C602.9 812.8 603.3 812.6 602.5 811.9Z" fill="url(#shv)" stroke="none"/>
<path d="M669.0 822.5C667.0 821.3 661.2 817.3 657.2 815.3C653.2 813.3 649.2 811.6 645.3 810.6C641.3 809.6 637.7 809.4 633.5 809.4C629.3 809.4 624.6 810.1 620.0 810.6C615.4 811.1 608.2 812.3 605.8 812.6" fill="none" stroke="#d04000" stroke-opacity="0.85" stroke-width="2" stroke-linecap="round"/>
<path d="M546.8 879.3C545.8 879.2 544.1 880.3 545.5 877.5C546.9 874.6 551.4 867.2 555.1 862.3C558.8 857.4 563.5 851.2 567.8 847.9C572.0 844.6 575.8 843.1 580.6 842.4C585.4 841.7 590.7 842.4 596.5 843.9C602.3 845.4 609.2 848.7 615.6 851.1C622.0 853.5 628.5 855.8 634.7 858.3C640.9 860.8 649.6 864.1 652.7 865.9C655.9 867.8 656.2 865.3 653.8 869.5C651.3 873.8 641.4 887.7 638.0 891.7C634.6 895.6 636.6 893.7 633.4 893.3C630.2 892.9 623.9 891.1 618.8 889.4C613.7 887.7 607.9 885.1 602.9 883.0C597.9 880.9 592.8 878.2 588.5 876.6C584.2 875.0 581.4 873.8 577.4 873.4C573.4 873.0 568.9 873.4 564.6 874.2C560.4 875.0 554.9 877.3 551.9 878.2C548.9 879.1 547.9 879.5 546.8 879.3Z" fill="url(#g7)" stroke="#d0a800" stroke-opacity="0.7" stroke-width="1.2"/>
<path d="M546.8 879.3C545.8 879.2 544.1 880.3 545.5 877.5C546.9 874.6 551.4 867.2 555.1 862.3C558.8 857.4 563.5 851.2 567.8 847.9C572.0 844.6 575.8 843.1 580.6 842.4C585.4 841.7 590.7 842.4 596.5 843.9C602.3 845.4 609.2 848.7 615.6 851.1C622.0 853.5 628.5 855.8 634.7 858.3C640.9 860.8 649.6 864.1 652.7 865.9C655.9 867.8 656.2 865.3 653.8 869.5C651.3 873.8 641.4 887.7 638.0 891.7C634.6 895.6 636.6 893.7 633.4 893.3C630.2 892.9 623.9 891.1 618.8 889.4C613.7 887.7 607.9 885.1 602.9 883.0C597.9 880.9 592.8 878.2 588.5 876.6C584.2 875.0 581.4 873.8 577.4 873.4C573.4 873.0 568.9 873.4 564.6 874.2C560.4 875.0 554.9 877.3 551.9 878.2C548.9 879.1 547.9 879.5 546.8 879.3Z" fill="url(#shv)" stroke="none"/>
<path d="M618.8 889.4C616.1 888.3 607.9 885.1 602.9 883.0C597.9 880.9 592.8 878.2 588.5 876.6C584.2 875.0 581.4 873.8 577.4 873.4C573.4 873.0 568.9 873.4 564.6 874.2C560.4 875.0 554.0 877.5 551.9 878.2" fill="none" stroke="#d0a800" stroke-opacity="0.85" stroke-width="2" stroke-linecap="round"/>
<path d="M495.4 943.4C494.4 943.5 493.0 944.3 494.4 942.1C495.8 939.9 500.3 934.5 503.7 930.1C507.1 925.7 511.4 919.4 514.9 915.8C518.4 912.2 520.5 909.4 524.5 908.6C528.5 907.8 533.0 909.4 538.8 911.0C544.6 912.6 552.6 916.1 559.5 918.2C566.4 920.3 573.6 922.2 580.2 923.7C586.9 925.2 595.5 926.0 599.4 926.9C603.3 927.8 602.9 927.9 603.8 928.9C604.6 929.8 608.1 927.3 604.6 932.4C601.1 937.6 587.3 954.9 582.9 959.7C578.5 964.4 581.2 961.6 578.1 961.2C575.0 960.8 569.3 958.9 564.3 957.2C559.3 955.5 553.2 952.6 548.4 950.8C543.6 948.9 539.9 947.5 535.6 946.1C531.4 944.7 527.1 943.2 522.9 942.1C518.6 941.0 513.8 939.8 510.1 939.7C506.4 939.6 503.1 940.7 500.6 941.3C498.1 941.9 496.4 943.2 495.4 943.4Z" fill="url(#g8)" stroke="#88c000" stroke-opacity="0.7" stroke-width="1.2"/>
<path d="M495.4 943.4C494.4 943.5 493.0 944.3 494.4 942.1C495.8 939.9 500.3 934.5 503.7 930.1C507.1 925.7 511.4 919.4 514.9 915.8C518.4 912.2 520.5 909.4 524.5 908.6C528.5 907.8 533.0 909.4 538.8 911.0C544.6 912.6 552.6 916.1 559.5 918.2C566.4 920.3 573.6 922.2 580.2 923.7C586.9 925.2 595.5 926.0 599.4 926.9C603.3 927.8 602.9 927.9 603.8 928.9C604.6 929.8 608.1 927.3 604.6 932.4C601.1 937.6 587.3 954.9 582.9 959.7C578.5 964.4 581.2 961.6 578.1 961.2C575.0 960.8 569.3 958.9 564.3 957.2C559.3 955.5 553.2 952.6 548.4 950.8C543.6 948.9 539.9 947.5 535.6 946.1C531.4 944.7 527.1 943.2 522.9 942.1C518.6 941.0 513.8 939.8 510.1 939.7C506.4 939.6 503.1 940.7 500.6 941.3C498.1 941.9 496.4 943.2 495.4 943.4Z" fill="url(#shv)" stroke="none"/>
<path d="M564.3 957.2C561.6 956.1 553.2 952.6 548.4 950.8C543.6 948.9 539.9 947.5 535.6 946.1C531.4 944.7 527.1 943.2 522.9 942.1C518.6 941.0 513.8 939.8 510.1 939.7C506.4 939.6 502.2 941.0 500.6 941.3" fill="none" stroke="#88c000" stroke-opacity="0.85" stroke-width="2" stroke-linecap="round"/>
<path d="M447.8 1011.7C446.5 1011.2 445.5 1011.1 446.4 1008.9C447.2 1006.8 450.3 1002.2 452.7 998.6C455.1 995.0 458.0 990.7 460.7 987.5C463.4 984.3 465.2 980.4 468.7 979.5C472.1 978.6 476.1 980.7 481.4 981.9C486.7 983.1 494.2 985.1 500.6 986.7C507.0 988.3 513.3 989.7 519.7 991.5C526.1 993.3 533.4 996.4 538.8 997.6C544.2 998.9 548.8 999.2 552.0 999.0C555.2 998.8 557.1 996.8 558.3 996.6C559.5 996.4 560.9 995.3 559.3 997.9C557.8 1000.5 553.1 1007.1 549.0 1012.0C544.9 1016.9 537.7 1024.6 534.5 1027.5C531.2 1030.4 531.9 1029.3 529.4 1029.5C526.9 1029.7 523.5 1029.5 519.7 1028.9C515.9 1028.3 511.4 1026.8 506.9 1025.7C502.4 1024.6 497.4 1023.8 492.6 1022.5C487.8 1021.2 482.7 1019.2 478.2 1017.8C473.7 1016.3 469.5 1014.7 465.5 1013.8C461.5 1012.9 457.3 1012.5 454.3 1012.2C451.3 1011.9 449.1 1012.3 447.8 1011.7Z" fill="url(#g9)" stroke="#20c000" stroke-opacity="0.7" stroke-width="1.2"/>
<path d="M447.8 1011.7C446.5 1011.2 445.5 1011.1 446.4 1008.9C447.2 1006.8 450.3 1002.2 452.7 998.6C455.1 995.0 458.0 990.7 460.7 987.5C463.4 984.3 465.2 980.4 468.7 979.5C472.1 978.6 476.1 980.7 481.4 981.9C486.7 983.1 494.2 985.1 500.6 986.7C507.0 988.3 513.3 989.7 519.7 991.5C526.1 993.3 533.4 996.4 538.8 997.6C544.2 998.9 548.8 999.2 552.0 999.0C555.2 998.8 557.1 996.8 558.3 996.6C559.5 996.4 560.9 995.3 559.3 997.9C557.8 1000.5 553.1 1007.1 549.0 1012.0C544.9 1016.9 537.7 1024.6 534.5 1027.5C531.2 1030.4 531.9 1029.3 529.4 1029.5C526.9 1029.7 523.5 1029.5 519.7 1028.9C515.9 1028.3 511.4 1026.8 506.9 1025.7C502.4 1024.6 497.4 1023.8 492.6 1022.5C487.8 1021.2 482.7 1019.2 478.2 1017.8C473.7 1016.3 469.5 1014.7 465.5 1013.8C461.5 1012.9 457.3 1012.5 454.3 1012.2C451.3 1011.9 449.1 1012.3 447.8 1011.7Z" fill="url(#shv)" stroke="none"/>
<path d="M519.7 1028.9C517.6 1028.4 511.4 1026.8 506.9 1025.7C502.4 1024.6 497.4 1023.8 492.6 1022.5C487.8 1021.2 482.7 1019.2 478.2 1017.8C473.7 1016.3 469.5 1014.7 465.5 1013.8C461.5 1012.9 456.2 1012.5 454.3 1012.2" fill="none" stroke="#20c000" stroke-opacity="0.85" stroke-width="2" stroke-linecap="round"/>
<path d="M399.2 1083.5C398.2 1082.4 397.2 1081.8 398.0 1079.3C398.7 1076.8 401.4 1072.4 403.7 1068.5C406.0 1064.6 409.0 1058.6 411.7 1055.8C414.4 1053.0 415.7 1052.2 419.7 1051.8C423.7 1051.4 430.3 1052.2 435.6 1053.4C440.9 1054.6 446.3 1057.2 451.6 1059.0C456.9 1060.8 462.2 1063.3 467.5 1064.5C472.8 1065.7 478.1 1066.1 483.4 1066.1C488.7 1066.1 495.4 1064.9 499.4 1064.5C503.4 1064.1 505.9 1063.6 507.5 1063.9C509.1 1064.2 510.3 1063.3 508.9 1066.2C507.5 1069.1 503.6 1076.1 499.4 1081.3C495.2 1086.5 487.9 1093.9 483.4 1097.2C478.9 1100.5 476.6 1100.7 472.3 1101.2C468.1 1101.7 462.7 1101.3 457.9 1100.4C453.1 1099.5 448.4 1097.3 443.6 1095.6C438.8 1093.9 433.7 1091.5 429.2 1090.0C424.7 1088.5 420.8 1087.6 416.5 1086.9C412.2 1086.2 406.6 1086.7 403.7 1086.1C400.8 1085.5 400.1 1084.6 399.2 1083.5Z" fill="url(#g10)" stroke="#008848" stroke-opacity="0.7" stroke-width="1.2"/>
<path d="M399.2 1083.5C398.2 1082.4 397.2 1081.8 398.0 1079.3C398.7 1076.8 401.4 1072.4 403.7 1068.5C406.0 1064.6 409.0 1058.6 411.7 1055.8C414.4 1053.0 415.7 1052.2 419.7 1051.8C423.7 1051.4 430.3 1052.2 435.6 1053.4C440.9 1054.6 446.3 1057.2 451.6 1059.0C456.9 1060.8 462.2 1063.3 467.5 1064.5C472.8 1065.7 478.1 1066.1 483.4 1066.1C488.7 1066.1 495.4 1064.9 499.4 1064.5C503.4 1064.1 505.9 1063.6 507.5 1063.9C509.1 1064.2 510.3 1063.3 508.9 1066.2C507.5 1069.1 503.6 1076.1 499.4 1081.3C495.2 1086.5 487.9 1093.9 483.4 1097.2C478.9 1100.5 476.6 1100.7 472.3 1101.2C468.1 1101.7 462.7 1101.3 457.9 1100.4C453.1 1099.5 448.4 1097.3 443.6 1095.6C438.8 1093.9 433.7 1091.5 429.2 1090.0C424.7 1088.5 420.8 1087.6 416.5 1086.9C412.2 1086.2 406.6 1086.7 403.7 1086.1C400.8 1085.5 400.1 1084.6 399.2 1083.5Z" fill="url(#shv)" stroke="none"/>
<path d="M457.9 1100.4C455.5 1099.6 448.4 1097.3 443.6 1095.6C438.8 1093.9 433.7 1091.5 429.2 1090.0C424.7 1088.5 420.8 1087.6 416.5 1086.9C412.2 1086.2 405.8 1086.2 403.7 1086.1" fill="none" stroke="#008848" stroke-opacity="0.85" stroke-width="2" stroke-linecap="round"/>
<path d="M353.0 1165.4C352.4 1166.6 352.2 1167.2 352.5 1168.7C352.9 1170.3 353.9 1172.5 355.3 1174.8C356.7 1177.1 359.2 1181.0 360.8 1182.7C362.4 1184.4 363.2 1185.2 364.8 1184.9C366.4 1184.6 368.3 1182.4 370.3 1181.1C372.3 1179.8 375.1 1178.3 376.6 1177.2C378.1 1176.1 379.1 1175.3 379.6 1174.4C380.0 1173.5 380.9 1173.3 379.4 1171.8C378.0 1170.2 374.3 1166.8 371.0 1165.0C367.7 1163.2 362.3 1161.3 359.9 1160.7C357.5 1160.1 357.8 1160.7 356.7 1161.5C355.5 1162.3 353.7 1164.2 353.0 1165.4Z" fill="url(#g11)" stroke="#0810b0" stroke-opacity="0.7" stroke-width="1.2"/>
<path d="M378.6 1175.2C380.3 1176.8 387.1 1183.0 388.8 1184.6" fill="none" stroke="#0000ff" stroke-width="5.6" stroke-linecap="butt"/>
<path d="M354.7 1166.5C352.9 1166.3 352.6 1165.9 352.8 1164.1C353.0 1162.3 354.8 1159.3 356.1 1155.8C357.4 1152.3 359.2 1147.4 360.8 1143.2C362.4 1139.0 364.2 1133.1 365.6 1130.6C367.0 1128.1 367.5 1128.6 368.9 1128.0C370.3 1127.4 372.0 1126.9 374.0 1127.0C375.9 1127.2 377.5 1127.6 380.6 1129.0C383.7 1130.4 388.4 1133.8 392.4 1135.3C396.3 1136.8 400.4 1137.7 404.3 1138.1C408.2 1138.5 412.2 1137.9 416.1 1137.7C420.1 1137.5 424.6 1137.1 428.0 1136.9C431.4 1136.7 433.0 1136.4 436.7 1136.5C440.4 1136.6 446.4 1137.3 450.0 1137.3C453.6 1137.3 456.6 1136.2 458.2 1136.4C459.8 1136.6 460.2 1136.9 459.5 1138.6C458.8 1140.2 456.3 1143.3 454.1 1146.4C451.9 1149.5 448.6 1154.0 446.2 1157.4C443.8 1160.8 441.9 1164.8 439.9 1166.9C437.9 1169.0 436.9 1169.0 434.3 1170.1C431.7 1171.1 427.8 1172.2 424.1 1173.2C420.4 1174.2 416.2 1175.3 412.2 1176.0C408.2 1176.7 403.6 1177.3 400.3 1177.2C397.0 1177.1 394.8 1176.1 392.4 1175.6C390.0 1175.1 388.2 1174.5 386.1 1174.0C384.0 1173.5 382.3 1173.4 379.8 1172.5C377.3 1171.6 373.9 1169.7 371.1 1168.5C368.3 1167.3 365.9 1165.6 363.2 1165.3C360.5 1165.0 356.4 1166.7 354.7 1166.5Z" fill="url(#g12)" stroke="#0020a8" stroke-opacity="0.7" stroke-width="1.2"/>
<path d="M354.7 1166.5C352.9 1166.3 352.6 1165.9 352.8 1164.1C353.0 1162.3 354.8 1159.3 356.1 1155.8C357.4 1152.3 359.2 1147.4 360.8 1143.2C362.4 1139.0 364.2 1133.1 365.6 1130.6C367.0 1128.1 367.5 1128.6 368.9 1128.0C370.3 1127.4 372.0 1126.9 374.0 1127.0C375.9 1127.2 377.5 1127.6 380.6 1129.0C383.7 1130.4 388.4 1133.8 392.4 1135.3C396.3 1136.8 400.4 1137.7 404.3 1138.1C408.2 1138.5 412.2 1137.9 416.1 1137.7C420.1 1137.5 424.6 1137.1 428.0 1136.9C431.4 1136.7 433.0 1136.4 436.7 1136.5C440.4 1136.6 446.4 1137.3 450.0 1137.3C453.6 1137.3 456.6 1136.2 458.2 1136.4C459.8 1136.6 460.2 1136.9 459.5 1138.6C458.8 1140.2 456.3 1143.3 454.1 1146.4C451.9 1149.5 448.6 1154.0 446.2 1157.4C443.8 1160.8 441.9 1164.8 439.9 1166.9C437.9 1169.0 436.9 1169.0 434.3 1170.1C431.7 1171.1 427.8 1172.2 424.1 1173.2C420.4 1174.2 416.2 1175.3 412.2 1176.0C408.2 1176.7 403.6 1177.3 400.3 1177.2C397.0 1177.1 394.8 1176.1 392.4 1175.6C390.0 1175.1 388.2 1174.5 386.1 1174.0C384.0 1173.5 382.3 1173.4 379.8 1172.5C377.3 1171.6 373.9 1169.7 371.1 1168.5C368.3 1167.3 365.9 1165.6 363.2 1165.3C360.5 1165.0 356.4 1166.7 354.7 1166.5Z" fill="url(#shv)" stroke="none"/>
<path d="M424.1 1173.2C422.1 1173.7 416.2 1175.3 412.2 1176.0C408.2 1176.7 403.6 1177.3 400.3 1177.2C397.0 1177.1 394.8 1176.1 392.4 1175.6C390.0 1175.1 388.2 1174.5 386.1 1174.0C384.0 1173.5 382.3 1173.4 379.8 1172.5C377.3 1171.6 373.9 1169.7 371.1 1168.5C368.3 1167.3 364.5 1165.8 363.2 1165.3" fill="none" stroke="#0020a8" stroke-opacity="0.85" stroke-width="2" stroke-linecap="round"/>
</g>
<g stroke-linejoin="round">
<path d="M945.2 824.5C950.2 824.1 966.5 822.4 975.5 821.9C984.5 821.4 992.8 820.5 999.4 821.3C1006.0 822.1 1010.3 823.8 1015.3 826.7C1020.3 829.7 1026.9 837.0 1029.2 839.0" fill="none" stroke="#f02c00" stroke-width="7.8" stroke-linecap="round"/>
<path d="M939.4 811.6C940.6 809.6 941.6 809.9 943.1 810.0C944.7 810.1 947.5 810.6 948.4 812.3C949.3 814.0 948.9 817.1 948.4 820.3C947.9 823.5 946.0 827.4 945.2 831.4C944.4 835.4 942.5 840.0 943.6 844.2C944.7 848.5 948.2 852.1 951.6 856.9C955.0 861.7 960.0 867.8 964.3 872.9C968.5 878.0 973.4 883.0 977.1 887.2C980.8 891.5 983.8 895.6 986.6 898.4C989.4 901.2 992.6 902.7 993.7 904.1C994.8 905.5 997.4 905.2 993.1 906.8C988.8 908.5 973.0 913.1 967.9 914.2C962.8 915.3 968.4 916.7 962.5 913.4C956.5 910.0 938.9 899.7 932.0 894.0C925.1 888.3 923.6 883.8 921.3 879.2C919.0 874.6 918.1 870.8 918.1 866.5C918.1 862.2 919.4 858.5 921.3 853.7C923.1 848.9 926.8 843.1 929.2 837.8C931.6 832.5 933.9 826.3 935.6 821.9C937.3 817.5 938.1 813.6 939.4 811.6Z" fill="url(#g13)" stroke="#c04800" stroke-opacity="0.7" stroke-width="1.2"/>
<path d="M942.5 811.6C941.7 811.5 941.1 810.6 940.0 812.3C938.8 814.1 937.4 817.7 935.6 822.0C933.8 826.3 931.6 832.7 929.2 838.0C926.8 843.3 923.1 849.2 921.3 854.0C919.5 858.8 918.3 862.3 918.3 866.5C918.3 870.7 920.2 876.2 921.3 879.0C922.4 881.8 923.9 882.8 924.8 883.4C925.6 884.1 925.7 885.6 926.2 883.0C926.8 880.4 926.7 873.8 928.0 868.0C929.3 862.2 931.7 854.7 934.0 848.0C936.3 841.3 940.1 833.3 942.0 828.0C943.9 822.7 945.1 818.4 945.5 815.9C945.8 813.4 944.8 813.6 944.3 812.9C943.8 812.2 943.2 811.7 942.5 811.6Z" fill="url(#g14)" stroke="#c04000" stroke-opacity="0.7" stroke-width="1.2" opacity="0.50"/>
<path d="M870.8 936.0C868.3 939.2 869.1 938.4 869.0 941.2C869.0 943.9 869.0 948.2 870.3 952.5C871.6 956.8 874.1 962.1 876.7 966.9C879.4 971.7 883.3 977.2 886.2 981.2C889.1 985.2 888.0 987.2 894.0 991.0C900.0 994.8 916.6 1001.5 922.3 1003.8C927.9 1006.0 922.8 1005.1 928.0 1004.5C933.1 1003.8 948.7 1001.1 953.0 999.9C957.4 998.7 955.0 999.0 953.9 997.3C952.8 995.6 950.1 994.1 946.5 989.8C942.9 985.5 936.9 976.9 932.4 971.7C927.9 966.6 923.7 963.4 919.7 958.9C915.7 954.4 911.0 949.4 908.5 944.6C906.0 939.8 905.8 933.0 904.5 929.9C903.2 926.8 903.5 927.4 900.9 925.9C898.3 924.4 891.6 921.7 888.8 921.1C886.0 920.5 886.9 919.7 883.9 922.2C880.9 924.7 873.3 932.9 870.8 936.0Z" fill="url(#g15)" stroke="#90c800" stroke-opacity="0.7" stroke-width="1.2"/>
<path d="M817.2 1030.9C814.0 1034.4 815.6 1032.9 816.7 1035.4C817.8 1037.8 820.7 1041.2 823.7 1045.6C826.7 1050.0 831.2 1056.3 834.9 1061.6C838.6 1066.9 843.5 1073.8 846.1 1077.5C848.8 1081.2 849.0 1081.3 850.8 1083.9C852.6 1086.5 854.5 1088.7 857.0 1093.0C859.5 1097.3 863.2 1103.4 866.0 1110.0C868.8 1116.6 872.2 1128.8 874.1 1132.8C876.0 1136.7 876.2 1134.1 877.4 1133.7C878.7 1133.4 879.6 1133.6 881.5 1130.5C883.4 1127.4 886.8 1120.1 889.1 1115.2C891.4 1110.3 893.4 1105.5 895.5 1101.2C897.6 1097.0 900.4 1093.3 901.9 1089.7C903.4 1086.1 904.7 1082.6 904.4 1079.5C904.1 1076.4 902.5 1074.1 900.2 1071.1C897.9 1068.1 894.4 1064.8 890.7 1061.6C887.0 1058.4 881.6 1055.7 877.9 1052.0C874.2 1048.3 870.9 1043.4 868.4 1039.2C865.9 1035.0 864.7 1029.5 863.2 1026.8C861.7 1024.0 863.1 1024.9 859.3 1022.7C855.6 1020.4 844.6 1014.8 840.7 1013.3C836.8 1011.9 839.7 1011.1 835.8 1014.0C831.9 1016.9 820.4 1027.3 817.2 1030.9Z" fill="url(#g16)" stroke="#00a828" stroke-opacity="0.7" stroke-width="1.2"/>
<path d="M771.5 1127.0C765.7 1127.3 769.6 1127.4 768.3 1128.6C767.1 1129.9 764.8 1131.9 764.0 1134.5C763.2 1137.1 762.7 1141.1 763.4 1144.5C764.1 1147.9 766.2 1151.3 768.0 1154.7C769.8 1158.1 772.5 1162.2 774.4 1164.9C776.3 1167.6 778.1 1169.9 779.5 1171.1C780.9 1172.3 780.0 1172.5 782.7 1172.1C785.5 1171.7 792.6 1170.8 796.1 1168.7C799.6 1166.6 802.0 1164.2 803.7 1159.8C805.4 1155.3 806.1 1147.1 806.3 1142.0C806.5 1136.9 805.7 1131.5 805.2 1129.0C804.6 1126.5 808.6 1127.3 803.0 1127.0C797.4 1126.7 777.3 1126.7 771.5 1127.0Z" fill="url(#g17)" stroke="#0818b0" stroke-opacity="0.7" stroke-width="1.2"/>
<path d="M776.9 1130.0C772.4 1130.4 774.8 1128.8 774.4 1132.5C774.0 1136.2 773.1 1146.5 774.4 1152.0C775.7 1157.5 780.2 1162.7 782.1 1165.3C784.0 1167.9 783.5 1167.1 785.8 1167.5C788.1 1167.9 793.4 1168.5 796.1 1167.5C798.8 1166.5 800.7 1163.3 801.9 1161.6C803.2 1159.9 803.4 1160.8 803.8 1157.3C804.2 1153.8 804.4 1144.8 804.5 1140.7C804.6 1136.6 804.6 1134.3 804.1 1132.5C803.6 1130.7 806.0 1130.4 801.5 1130.0C797.0 1129.6 781.4 1129.6 776.9 1130.0Z" fill="url(#g18)" stroke="#081890" stroke-opacity="0.7" stroke-width="1.2"/>
<path d="M799.5 1165.8C801.8 1167.9 810.8 1176.5 813.0 1178.6" fill="none" stroke="#0000ff" stroke-width="7.0" stroke-linecap="butt"/>
<path d="M871.3 938.1C870.4 937.6 869.3 937.6 869.9 935.3C870.6 932.9 872.9 928.5 875.1 923.9C877.3 919.3 880.4 912.7 883.0 907.9C885.6 903.1 887.5 898.5 891.0 895.2C894.5 891.9 898.9 889.9 903.7 888.0C908.5 886.1 913.9 884.4 919.7 884.0C925.6 883.6 932.4 884.5 938.8 885.6C945.2 886.7 951.5 888.7 957.9 890.4C964.3 892.1 971.2 894.5 977.1 896.0C983.0 897.5 988.8 897.7 993.0 899.2C997.2 900.7 1000.6 903.2 1002.3 904.8C1004.0 906.4 1004.6 905.9 1003.3 908.8C1002.0 911.7 998.1 917.6 994.6 922.3C991.1 927.0 985.1 933.9 982.2 936.7C979.3 939.5 979.6 938.6 977.2 939.0C974.8 939.4 971.8 939.9 967.5 939.0C963.2 938.1 956.9 935.3 951.6 933.4C946.3 931.5 940.9 929.0 935.6 927.8C930.3 926.6 925.0 926.2 919.7 926.3C914.4 926.4 909.0 927.4 903.7 928.6C898.4 929.8 892.6 931.8 887.8 933.4C883.0 935.0 877.9 937.4 875.1 938.2C872.3 939.0 872.1 938.6 871.3 938.1Z" fill="url(#g19)" stroke="#c8b000" stroke-opacity="0.7" stroke-width="1.2"/>
<path d="M871.3 938.1C870.4 937.6 869.3 937.6 869.9 935.3C870.6 932.9 872.9 928.5 875.1 923.9C877.3 919.3 880.4 912.7 883.0 907.9C885.6 903.1 887.5 898.5 891.0 895.2C894.5 891.9 898.9 889.9 903.7 888.0C908.5 886.1 913.9 884.4 919.7 884.0C925.6 883.6 932.4 884.5 938.8 885.6C945.2 886.7 951.5 888.7 957.9 890.4C964.3 892.1 971.2 894.5 977.1 896.0C983.0 897.5 988.8 897.7 993.0 899.2C997.2 900.7 1000.6 903.2 1002.3 904.8C1004.0 906.4 1004.6 905.9 1003.3 908.8C1002.0 911.7 998.1 917.6 994.6 922.3C991.1 927.0 985.1 933.9 982.2 936.7C979.3 939.5 979.6 938.6 977.2 939.0C974.8 939.4 971.8 939.9 967.5 939.0C963.2 938.1 956.9 935.3 951.6 933.4C946.3 931.5 940.9 929.0 935.6 927.8C930.3 926.6 925.0 926.2 919.7 926.3C914.4 926.4 909.0 927.4 903.7 928.6C898.4 929.8 892.6 931.8 887.8 933.4C883.0 935.0 877.9 937.4 875.1 938.2C872.3 939.0 872.1 938.6 871.3 938.1Z" fill="url(#shv)" stroke="none"/>
<path d="M967.5 939.0C964.9 938.1 956.9 935.3 951.6 933.4C946.3 931.5 940.9 929.0 935.6 927.8C930.3 926.6 925.0 926.2 919.7 926.3C914.4 926.4 909.0 927.4 903.7 928.6C898.4 929.8 892.6 931.8 887.8 933.4C883.0 935.0 877.2 937.4 875.1 938.2" fill="none" stroke="#c8b000" stroke-opacity="0.85" stroke-width="2" stroke-linecap="round"/>
<path d="M817.1 1032.6C816.0 1031.9 814.7 1032.2 815.5 1029.3C816.3 1026.4 819.5 1020.5 822.2 1015.3C824.9 1010.1 828.5 1002.8 831.7 997.8C834.9 992.8 837.3 988.1 841.3 985.1C845.3 982.1 850.5 980.3 855.6 979.5C860.7 978.7 865.8 979.5 871.6 980.3C877.5 981.1 884.3 982.8 890.7 984.3C897.1 985.8 903.4 987.7 909.8 989.0C916.2 990.3 922.8 991.4 928.9 992.2C935.0 993.0 942.4 992.9 946.5 993.8C950.6 994.7 952.1 996.5 953.4 997.9C954.7 999.2 955.9 998.7 954.2 1001.8C952.6 1005.0 947.2 1012.1 943.3 1016.9C939.4 1021.7 933.8 1027.9 930.9 1030.7C928.0 1033.4 928.9 1032.6 926.0 1033.5C923.0 1034.4 917.8 1035.9 913.0 1036.1C908.2 1036.3 902.4 1035.4 897.1 1034.5C891.8 1033.6 886.7 1031.8 881.1 1030.5C875.5 1029.2 868.9 1027.7 863.6 1026.5C858.3 1025.3 854.0 1023.3 849.2 1023.3C844.4 1023.3 839.4 1024.8 834.9 1026.5C830.4 1028.2 825.2 1032.7 822.2 1033.7C819.2 1034.7 818.3 1033.4 817.1 1032.6Z" fill="url(#g20)" stroke="#28c000" stroke-opacity="0.7" stroke-width="1.2"/>
<path d="M817.1 1032.6C816.0 1031.9 814.7 1032.2 815.5 1029.3C816.3 1026.4 819.5 1020.5 822.2 1015.3C824.9 1010.1 828.5 1002.8 831.7 997.8C834.9 992.8 837.3 988.1 841.3 985.1C845.3 982.1 850.5 980.3 855.6 979.5C860.7 978.7 865.8 979.5 871.6 980.3C877.5 981.1 884.3 982.8 890.7 984.3C897.1 985.8 903.4 987.7 909.8 989.0C916.2 990.3 922.8 991.4 928.9 992.2C935.0 993.0 942.4 992.9 946.5 993.8C950.6 994.7 952.1 996.5 953.4 997.9C954.7 999.2 955.9 998.7 954.2 1001.8C952.6 1005.0 947.2 1012.1 943.3 1016.9C939.4 1021.7 933.8 1027.9 930.9 1030.7C928.0 1033.4 928.9 1032.6 926.0 1033.5C923.0 1034.4 917.8 1035.9 913.0 1036.1C908.2 1036.3 902.4 1035.4 897.1 1034.5C891.8 1033.6 886.7 1031.8 881.1 1030.5C875.5 1029.2 868.9 1027.7 863.6 1026.5C858.3 1025.3 854.0 1023.3 849.2 1023.3C844.4 1023.3 839.4 1024.8 834.9 1026.5C830.4 1028.2 825.2 1032.7 822.2 1033.7C819.2 1034.7 818.3 1033.4 817.1 1032.6Z" fill="url(#shv)" stroke="none"/>
<path d="M913.0 1036.1C910.4 1035.8 902.4 1035.4 897.1 1034.5C891.8 1033.6 886.7 1031.8 881.1 1030.5C875.5 1029.2 868.9 1027.7 863.6 1026.5C858.3 1025.3 854.0 1023.3 849.2 1023.3C844.4 1023.3 839.4 1024.8 834.9 1026.5C830.4 1028.2 824.3 1032.5 822.2 1033.7" fill="none" stroke="#28c000" stroke-opacity="0.85" stroke-width="2" stroke-linecap="round"/>
<path d="M782.1 1093.5C784.0 1089.7 785.3 1087.6 787.2 1085.9C789.1 1084.2 790.3 1083.3 793.5 1083.3C796.7 1083.3 801.4 1085.2 806.3 1085.9C811.2 1086.6 817.4 1087.2 822.9 1087.2C828.4 1087.2 834.5 1086.4 839.4 1086.1C844.3 1085.8 847.5 1085.1 852.2 1085.3C856.9 1085.5 862.4 1086.5 867.5 1087.2C872.6 1087.9 878.5 1089.0 882.8 1089.7C887.0 1090.4 890.3 1091.5 893.0 1091.6C895.7 1091.7 897.7 1090.2 899.0 1090.3C900.2 1090.4 901.0 1090.5 900.4 1092.3C899.9 1094.1 897.4 1097.4 895.5 1101.2C893.6 1105.0 891.4 1110.3 889.1 1115.2C886.8 1120.1 883.4 1127.4 881.5 1130.5C879.6 1133.6 879.0 1132.9 877.4 1133.7C875.9 1134.6 874.6 1135.3 872.1 1135.5C869.6 1135.8 866.4 1135.4 862.4 1135.3C858.4 1135.2 852.8 1134.8 848.3 1135.0C843.8 1135.2 840.0 1135.8 835.6 1136.2C831.2 1136.6 825.6 1137.5 821.6 1137.5C817.6 1137.5 814.4 1136.6 811.4 1136.2C808.4 1135.8 807.3 1135.7 803.7 1135.0C800.1 1134.3 794.6 1132.8 790.0 1132.0C785.4 1131.2 779.8 1130.3 776.0 1130.5C772.2 1130.7 768.8 1133.2 767.1 1133.4C765.3 1133.6 765.2 1133.2 765.5 1131.6C765.9 1130.1 767.6 1127.9 769.3 1124.1C771.0 1120.3 773.6 1113.9 775.7 1108.8C777.8 1103.7 780.2 1097.3 782.1 1093.5Z" fill="url(#g21)" stroke="#005078" stroke-opacity="0.7" stroke-width="1.2"/>
<path d="M782.1 1093.5C784.0 1089.7 785.3 1087.6 787.2 1085.9C789.1 1084.2 790.3 1083.3 793.5 1083.3C796.7 1083.3 801.4 1085.2 806.3 1085.9C811.2 1086.6 817.4 1087.2 822.9 1087.2C828.4 1087.2 834.5 1086.4 839.4 1086.1C844.3 1085.8 847.5 1085.1 852.2 1085.3C856.9 1085.5 862.4 1086.5 867.5 1087.2C872.6 1087.9 878.5 1089.0 882.8 1089.7C887.0 1090.4 890.3 1091.5 893.0 1091.6C895.7 1091.7 897.7 1090.2 899.0 1090.3C900.2 1090.4 901.0 1090.5 900.4 1092.3C899.9 1094.1 897.4 1097.4 895.5 1101.2C893.6 1105.0 891.4 1110.3 889.1 1115.2C886.8 1120.1 883.4 1127.4 881.5 1130.5C879.6 1133.6 879.0 1132.9 877.4 1133.7C875.9 1134.6 874.6 1135.3 872.1 1135.5C869.6 1135.8 866.4 1135.4 862.4 1135.3C858.4 1135.2 852.8 1134.8 848.3 1135.0C843.8 1135.2 840.0 1135.8 835.6 1136.2C831.2 1136.6 825.6 1137.5 821.6 1137.5C817.6 1137.5 814.4 1136.6 811.4 1136.2C808.4 1135.8 807.3 1135.7 803.7 1135.0C800.1 1134.3 794.6 1132.8 790.0 1132.0C785.4 1131.2 779.8 1130.3 776.0 1130.5C772.2 1130.7 768.8 1133.2 767.1 1133.4C765.3 1133.6 765.2 1133.2 765.5 1131.6C765.9 1130.1 767.6 1127.9 769.3 1124.1C771.0 1120.3 773.6 1113.9 775.7 1108.8C777.8 1103.7 780.2 1097.3 782.1 1093.5Z" fill="url(#shv)" stroke="none"/>
<path d="M862.4 1135.3C860.0 1135.2 852.8 1134.8 848.3 1135.0C843.8 1135.2 840.0 1135.8 835.6 1136.2C831.2 1136.6 825.6 1137.5 821.6 1137.5C817.6 1137.5 814.4 1136.6 811.4 1136.2C808.4 1135.8 807.3 1135.7 803.7 1135.0C800.1 1134.3 794.6 1132.8 790.0 1132.0C785.4 1131.2 778.3 1130.8 776.0 1130.5" fill="none" stroke="#005078" stroke-opacity="0.85" stroke-width="2" stroke-linecap="round"/>
</g>
<g stroke-linejoin="round">
<path d="M1272.0 841.0C1273.5 839.9 1277.2 836.2 1281.1 834.3C1285.0 832.4 1290.5 830.4 1295.5 829.5C1300.5 828.6 1305.8 828.3 1311.4 828.7C1317.0 829.1 1323.4 830.4 1328.9 831.9C1334.4 833.4 1341.9 837.0 1344.5 838.0" fill="none" stroke="#ff2010" stroke-width="6.5" stroke-linecap="round"/>
<path d="M1271.6 841.4C1270.4 844.0 1267.3 849.7 1266.8 854.2C1266.3 858.7 1267.1 864.0 1268.4 868.5C1269.7 873.0 1272.9 877.8 1274.7 881.3C1276.5 884.8 1277.6 886.4 1279.5 889.2C1281.4 892.0 1282.2 895.4 1286.0 898.0C1289.8 900.6 1298.6 903.7 1302.2 904.8C1305.9 906.0 1304.4 905.9 1307.8 905.0C1311.3 904.2 1320.1 901.3 1322.9 899.8C1325.7 898.3 1324.9 898.1 1324.5 896.0C1324.2 894.0 1323.5 890.9 1321.0 887.6C1318.5 884.3 1313.8 880.5 1309.8 876.5C1305.8 872.5 1300.5 868.2 1297.1 863.7C1293.6 859.2 1291.8 853.6 1289.1 849.4C1286.4 845.1 1282.9 840.2 1281.1 838.2C1279.3 836.2 1279.2 837.4 1278.0 837.5C1276.9 837.6 1275.3 838.1 1274.2 838.8C1273.2 839.4 1272.8 838.8 1271.6 841.4Z" fill="url(#g22)" stroke="#c83800" stroke-opacity="0.7" stroke-width="1.2"/>
<path d="M1230.4 925.2C1228.3 928.5 1229.4 928.0 1230.2 930.0C1230.9 932.0 1232.8 934.1 1234.9 937.1C1237.0 940.1 1240.5 945.0 1242.9 948.2C1245.3 951.4 1247.2 953.6 1249.2 956.2C1251.2 958.8 1251.7 961.6 1255.0 964.0C1258.3 966.4 1266.0 969.6 1269.3 970.7C1272.5 971.8 1271.4 971.8 1274.6 970.5C1277.7 969.1 1285.6 964.6 1288.1 962.5C1290.6 960.5 1289.7 959.8 1289.6 958.2C1289.5 956.6 1289.4 955.5 1287.5 953.0C1285.6 950.5 1281.1 946.9 1277.9 943.4C1274.7 939.9 1270.8 936.1 1268.4 932.3C1266.0 928.5 1264.7 923.4 1263.2 920.7C1261.7 918.1 1262.0 918.3 1259.4 916.5C1256.8 914.6 1250.3 910.6 1247.6 909.5C1244.9 908.5 1245.9 907.7 1243.1 910.3C1240.2 912.9 1232.6 921.9 1230.4 925.2Z" fill="url(#g23)" stroke="#d0b800" stroke-opacity="0.7" stroke-width="1.2"/>
<path d="M1194.9 984.5C1192.6 986.7 1193.4 987.0 1193.7 988.9C1194.1 990.8 1194.8 992.5 1197.2 995.8C1199.6 999.1 1205.0 1004.2 1208.4 1008.5C1211.9 1012.8 1215.2 1017.6 1217.9 1021.3C1220.6 1025.0 1222.7 1028.3 1224.3 1030.8C1225.9 1033.3 1226.2 1035.0 1227.5 1036.4C1228.8 1037.8 1229.9 1038.7 1232.0 1039.4C1234.1 1040.1 1237.9 1040.7 1240.0 1040.6C1242.2 1040.4 1242.8 1040.6 1244.8 1038.6C1246.8 1036.6 1250.7 1031.0 1252.0 1028.5C1253.4 1026.0 1252.9 1025.0 1252.8 1023.5C1252.7 1022.1 1253.0 1021.9 1251.4 1019.7C1249.8 1017.5 1246.1 1013.6 1243.4 1010.1C1240.8 1006.6 1237.7 1002.7 1235.5 999.0C1233.3 995.3 1231.8 990.3 1230.3 987.7C1228.8 985.1 1229.5 985.5 1226.5 983.5C1223.5 981.5 1215.8 976.8 1212.6 975.5C1209.4 974.2 1210.5 974.2 1207.5 975.7C1204.6 977.2 1197.2 982.3 1194.9 984.5Z" fill="url(#g24)" stroke="#58c000" stroke-opacity="0.7" stroke-width="1.2"/>
<path d="M1162.6 1051.4C1160.0 1052.8 1160.6 1052.7 1161.6 1054.8C1162.6 1057.0 1165.5 1060.6 1168.5 1064.3C1171.5 1068.0 1176.2 1073.0 1179.7 1077.0C1183.2 1081.0 1187.1 1085.0 1189.2 1088.2C1191.3 1091.4 1191.6 1094.2 1192.4 1096.2C1193.2 1098.2 1193.0 1099.0 1194.0 1100.3C1194.9 1101.5 1196.4 1103.0 1197.9 1103.8C1199.4 1104.6 1201.4 1105.2 1203.1 1105.2C1204.8 1105.2 1206.2 1105.1 1207.9 1103.7C1209.7 1102.3 1212.4 1099.8 1213.8 1096.8C1215.2 1093.8 1216.3 1089.6 1216.1 1085.7C1215.9 1081.8 1214.4 1077.1 1212.7 1073.4C1211.0 1069.7 1207.4 1065.6 1206.0 1063.3C1204.6 1061.0 1205.1 1060.8 1204.2 1059.5C1203.3 1058.2 1203.9 1057.8 1200.3 1055.6C1196.8 1053.4 1186.5 1048.0 1182.7 1046.4C1178.8 1044.8 1180.5 1045.2 1177.2 1046.0C1173.8 1046.9 1165.2 1049.9 1162.6 1051.4Z" fill="url(#g25)" stroke="#08a828" stroke-opacity="0.7" stroke-width="1.2"/>
<path d="M1132.1 1116.5C1129.3 1117.3 1130.1 1117.8 1130.5 1119.5C1131.0 1121.3 1132.6 1123.8 1134.6 1126.9C1136.6 1130.0 1139.8 1134.8 1142.4 1138.1C1145.0 1141.4 1148.4 1144.0 1150.3 1147.0C1152.2 1150.0 1153.6 1152.9 1153.6 1155.9C1153.6 1158.9 1152.0 1162.5 1150.3 1164.9C1148.6 1167.3 1146.6 1168.9 1143.6 1170.5C1140.6 1172.1 1136.2 1173.7 1132.4 1174.4C1128.6 1175.1 1123.5 1174.5 1120.9 1174.8C1118.3 1175.1 1117.9 1175.6 1117.1 1176.1C1116.2 1176.7 1115.9 1177.3 1115.8 1178.0C1115.7 1178.7 1115.6 1179.7 1116.2 1180.4C1116.8 1181.1 1116.6 1181.7 1119.5 1182.2C1122.4 1182.7 1129.5 1183.7 1133.5 1183.3C1137.5 1182.9 1140.1 1181.3 1143.6 1179.9C1147.1 1178.5 1151.0 1177.0 1154.7 1174.9C1158.4 1172.8 1162.9 1169.7 1165.9 1167.1C1168.9 1164.5 1170.8 1162.1 1172.6 1159.3C1174.4 1156.5 1175.8 1153.6 1176.5 1150.4C1177.2 1147.2 1177.0 1143.4 1176.5 1140.3C1176.0 1137.2 1174.6 1134.0 1173.6 1131.8C1172.5 1129.7 1173.6 1130.0 1170.1 1127.3C1166.6 1124.6 1156.3 1117.8 1152.5 1115.7C1148.7 1113.5 1150.4 1114.3 1147.0 1114.4C1143.6 1114.6 1134.8 1115.6 1132.1 1116.5Z" fill="url(#g26)" stroke="#0818b0" stroke-opacity="0.7" stroke-width="1.2"/>
<path d="M1160.0 1147.0C1162.2 1143.3 1166.0 1138.6 1168.0 1138.0C1170.0 1137.4 1171.3 1141.8 1172.2 1143.6C1173.1 1145.4 1173.5 1146.5 1173.3 1148.9C1173.1 1151.3 1172.7 1155.2 1171.0 1158.0C1169.3 1160.8 1165.1 1164.6 1163.1 1165.9C1161.2 1167.1 1160.6 1166.6 1159.2 1165.6C1157.8 1164.6 1154.9 1163.1 1155.0 1160.0C1155.1 1156.9 1157.8 1150.7 1160.0 1147.0Z" fill="url(#g27)" stroke="#0818a0" stroke-opacity="0.7" stroke-width="1.2" opacity="0.55"/>
<path d="M1229.3 924.7C1227.6 925.6 1227.4 925.9 1228.1 923.7C1228.8 921.6 1231.1 916.3 1233.3 911.6C1235.5 906.9 1238.4 899.7 1241.3 895.6C1244.2 891.5 1247.1 888.2 1250.8 886.9C1254.5 885.6 1258.8 887.0 1263.6 887.6C1268.4 888.2 1273.7 890.0 1279.5 890.8C1285.3 891.6 1292.5 891.9 1298.6 892.4C1304.7 892.9 1312.1 893.2 1316.2 894.0C1320.3 894.8 1321.7 896.2 1323.0 897.4C1324.3 898.7 1325.3 898.5 1324.2 901.4C1323.0 904.3 1318.8 911.0 1316.2 914.7C1313.6 918.4 1310.6 921.9 1308.6 923.6C1306.5 925.4 1305.8 925.3 1303.7 925.3C1301.5 925.2 1299.5 923.9 1295.5 923.5C1291.5 923.1 1284.8 923.2 1279.5 922.7C1274.2 922.2 1268.6 921.4 1263.6 920.3C1258.5 919.2 1253.5 916.7 1249.2 916.3C1245.0 915.9 1241.4 916.5 1238.1 917.9C1234.8 919.3 1230.9 923.7 1229.3 924.7Z" fill="url(#g28)" stroke="#d89000" stroke-opacity="0.7" stroke-width="1.2"/>
<path d="M1229.3 924.7C1227.6 925.6 1227.4 925.9 1228.1 923.7C1228.8 921.6 1231.1 916.3 1233.3 911.6C1235.5 906.9 1238.4 899.7 1241.3 895.6C1244.2 891.5 1247.1 888.2 1250.8 886.9C1254.5 885.6 1258.8 887.0 1263.6 887.6C1268.4 888.2 1273.7 890.0 1279.5 890.8C1285.3 891.6 1292.5 891.9 1298.6 892.4C1304.7 892.9 1312.1 893.2 1316.2 894.0C1320.3 894.8 1321.7 896.2 1323.0 897.4C1324.3 898.7 1325.3 898.5 1324.2 901.4C1323.0 904.3 1318.8 911.0 1316.2 914.7C1313.6 918.4 1310.6 921.9 1308.6 923.6C1306.5 925.4 1305.8 925.3 1303.7 925.3C1301.5 925.2 1299.5 923.9 1295.5 923.5C1291.5 923.1 1284.8 923.2 1279.5 922.7C1274.2 922.2 1268.6 921.4 1263.6 920.3C1258.5 919.2 1253.5 916.7 1249.2 916.3C1245.0 915.9 1241.4 916.5 1238.1 917.9C1234.8 919.3 1230.9 923.7 1229.3 924.7Z" fill="url(#shv)" stroke="none"/>
<path d="M1295.5 923.5C1292.8 923.4 1284.8 923.2 1279.5 922.7C1274.2 922.2 1268.6 921.4 1263.6 920.3C1258.5 919.2 1253.5 916.7 1249.2 916.3C1245.0 915.9 1239.9 917.6 1238.1 917.9" fill="none" stroke="#d89000" stroke-opacity="0.85" stroke-width="2" stroke-linecap="round"/>
<path d="M1194.4 984.5C1193.4 984.5 1192.3 984.8 1192.7 982.7C1193.2 980.6 1195.4 976.1 1197.2 971.9C1199.0 967.7 1201.2 960.6 1203.6 957.5C1206.0 954.4 1207.6 953.9 1211.6 953.5C1215.6 953.1 1221.7 954.6 1227.5 955.1C1233.3 955.6 1240.8 955.8 1246.6 956.7C1252.4 957.6 1257.7 959.5 1262.5 960.7C1267.3 961.9 1271.7 963.6 1275.3 963.9C1278.9 964.2 1281.8 963.1 1284.0 962.5C1286.2 961.9 1287.5 960.5 1288.5 960.4C1289.5 960.3 1290.7 959.3 1289.9 961.8C1289.0 964.2 1286.0 970.8 1283.3 975.1C1280.6 979.4 1276.0 985.0 1273.7 987.8C1271.4 990.6 1271.0 991.1 1269.4 992.1C1267.9 993.0 1267.1 993.7 1264.4 993.5C1261.6 993.4 1257.5 992.0 1253.0 991.0C1248.5 990.0 1242.4 988.9 1237.1 987.8C1231.8 986.7 1225.9 985.5 1221.1 984.6C1216.3 983.7 1212.1 982.5 1208.4 982.2C1204.7 981.9 1201.1 982.6 1198.8 983.0C1196.5 983.4 1195.4 984.6 1194.4 984.5Z" fill="url(#g29)" stroke="#98c800" stroke-opacity="0.7" stroke-width="1.2"/>
<path d="M1194.4 984.5C1193.4 984.5 1192.3 984.8 1192.7 982.7C1193.2 980.6 1195.4 976.1 1197.2 971.9C1199.0 967.7 1201.2 960.6 1203.6 957.5C1206.0 954.4 1207.6 953.9 1211.6 953.5C1215.6 953.1 1221.7 954.6 1227.5 955.1C1233.3 955.6 1240.8 955.8 1246.6 956.7C1252.4 957.6 1257.7 959.5 1262.5 960.7C1267.3 961.9 1271.7 963.6 1275.3 963.9C1278.9 964.2 1281.8 963.1 1284.0 962.5C1286.2 961.9 1287.5 960.5 1288.5 960.4C1289.5 960.3 1290.7 959.3 1289.9 961.8C1289.0 964.2 1286.0 970.8 1283.3 975.1C1280.6 979.4 1276.0 985.0 1273.7 987.8C1271.4 990.6 1271.0 991.1 1269.4 992.1C1267.9 993.0 1267.1 993.7 1264.4 993.5C1261.6 993.4 1257.5 992.0 1253.0 991.0C1248.5 990.0 1242.4 988.9 1237.1 987.8C1231.8 986.7 1225.9 985.5 1221.1 984.6C1216.3 983.7 1212.1 982.5 1208.4 982.2C1204.7 981.9 1201.1 982.6 1198.8 983.0C1196.5 983.4 1195.4 984.6 1194.4 984.5Z" fill="url(#shv)" stroke="none"/>
<path d="M1253.0 991.0C1250.3 990.5 1242.4 988.9 1237.1 987.8C1231.8 986.7 1225.9 985.5 1221.1 984.6C1216.3 983.7 1212.1 982.5 1208.4 982.2C1204.7 981.9 1200.4 982.9 1198.8 983.0" fill="none" stroke="#98c800" stroke-opacity="0.85" stroke-width="2" stroke-linecap="round"/>
<path d="M1160.3 1051.8C1158.6 1050.8 1158.1 1050.6 1158.4 1048.2C1158.7 1045.7 1160.8 1041.1 1162.2 1037.2C1163.6 1033.3 1164.8 1026.9 1166.9 1024.5C1169.0 1022.1 1170.9 1022.8 1174.9 1022.9C1178.9 1023.0 1185.2 1024.2 1190.8 1025.3C1196.4 1026.3 1202.8 1028.0 1208.4 1029.2C1214.0 1030.4 1219.0 1032.3 1224.3 1032.4C1229.6 1032.5 1235.8 1030.9 1240.2 1030.0C1244.6 1029.1 1248.9 1027.1 1250.9 1026.9C1253.0 1026.7 1253.3 1026.3 1252.6 1028.8C1251.8 1031.3 1248.9 1037.4 1246.6 1042.0C1244.3 1046.6 1241.4 1053.0 1238.6 1056.3C1235.8 1059.6 1232.4 1060.7 1230.0 1061.9C1227.7 1063.0 1227.1 1063.1 1224.5 1063.1C1222.0 1063.1 1219.0 1062.8 1214.7 1061.9C1210.4 1061.0 1204.1 1059.1 1198.8 1057.9C1193.5 1056.7 1188.0 1055.4 1182.9 1054.7C1177.9 1054.0 1172.3 1054.4 1168.5 1053.9C1164.7 1053.4 1162.0 1052.7 1160.3 1051.8Z" fill="url(#g30)" stroke="#20c000" stroke-opacity="0.7" stroke-width="1.2"/>
<path d="M1160.3 1051.8C1158.6 1050.8 1158.1 1050.6 1158.4 1048.2C1158.7 1045.7 1160.8 1041.1 1162.2 1037.2C1163.6 1033.3 1164.8 1026.9 1166.9 1024.5C1169.0 1022.1 1170.9 1022.8 1174.9 1022.9C1178.9 1023.0 1185.2 1024.2 1190.8 1025.3C1196.4 1026.3 1202.8 1028.0 1208.4 1029.2C1214.0 1030.4 1219.0 1032.3 1224.3 1032.4C1229.6 1032.5 1235.8 1030.9 1240.2 1030.0C1244.6 1029.1 1248.9 1027.1 1250.9 1026.9C1253.0 1026.7 1253.3 1026.3 1252.6 1028.8C1251.8 1031.3 1248.9 1037.4 1246.6 1042.0C1244.3 1046.6 1241.4 1053.0 1238.6 1056.3C1235.8 1059.6 1232.4 1060.7 1230.0 1061.9C1227.7 1063.0 1227.1 1063.1 1224.5 1063.1C1222.0 1063.1 1219.0 1062.8 1214.7 1061.9C1210.4 1061.0 1204.1 1059.1 1198.8 1057.9C1193.5 1056.7 1188.0 1055.4 1182.9 1054.7C1177.9 1054.0 1172.3 1054.4 1168.5 1053.9C1164.7 1053.4 1162.0 1052.7 1160.3 1051.8Z" fill="url(#shv)" stroke="none"/>
<path d="M1214.7 1061.9C1212.0 1061.2 1204.1 1059.1 1198.8 1057.9C1193.5 1056.7 1188.0 1055.4 1182.9 1054.7C1177.9 1054.0 1170.9 1054.0 1168.5 1053.9" fill="none" stroke="#20c000" stroke-opacity="0.85" stroke-width="2" stroke-linecap="round"/>
<path d="M1120.2 1113.1C1118.5 1112.1 1118.3 1111.4 1118.9 1109.7C1119.5 1107.9 1121.3 1106.0 1123.5 1102.4C1125.7 1098.8 1130.2 1090.6 1132.4 1087.9C1134.6 1085.2 1134.3 1085.9 1136.9 1086.2C1139.5 1086.5 1144.3 1088.1 1148.0 1089.6C1151.7 1091.1 1155.5 1093.5 1159.2 1095.1C1162.9 1096.7 1166.6 1098.3 1170.3 1099.1C1174.0 1099.8 1177.8 1099.8 1181.5 1099.6C1185.2 1099.4 1188.1 1098.7 1192.6 1097.9C1197.1 1097.2 1205.1 1095.8 1208.3 1095.1C1211.5 1094.4 1211.2 1093.7 1212.0 1093.8C1212.8 1093.9 1214.1 1093.1 1213.1 1095.7C1212.1 1098.2 1208.3 1105.2 1206.0 1109.1C1203.7 1113.0 1201.5 1116.3 1199.3 1119.1C1197.1 1121.9 1195.6 1124.0 1192.6 1125.8C1189.6 1127.6 1184.8 1129.0 1181.5 1129.7C1178.2 1130.5 1175.9 1130.6 1172.6 1130.3C1169.2 1130.0 1165.1 1129.2 1161.4 1128.1C1157.7 1127.0 1154.0 1125.1 1150.3 1123.6C1146.6 1122.1 1142.6 1120.4 1139.1 1119.1C1135.6 1117.8 1132.3 1116.8 1129.1 1115.8C1125.9 1114.8 1121.9 1114.1 1120.2 1113.1Z" fill="url(#g31)" stroke="#007050" stroke-opacity="0.7" stroke-width="1.2"/>
<path d="M1120.2 1113.1C1118.5 1112.1 1118.3 1111.4 1118.9 1109.7C1119.5 1107.9 1121.3 1106.0 1123.5 1102.4C1125.7 1098.8 1130.2 1090.6 1132.4 1087.9C1134.6 1085.2 1134.3 1085.9 1136.9 1086.2C1139.5 1086.5 1144.3 1088.1 1148.0 1089.6C1151.7 1091.1 1155.5 1093.5 1159.2 1095.1C1162.9 1096.7 1166.6 1098.3 1170.3 1099.1C1174.0 1099.8 1177.8 1099.8 1181.5 1099.6C1185.2 1099.4 1188.1 1098.7 1192.6 1097.9C1197.1 1097.2 1205.1 1095.8 1208.3 1095.1C1211.5 1094.4 1211.2 1093.7 1212.0 1093.8C1212.8 1093.9 1214.1 1093.1 1213.1 1095.7C1212.1 1098.2 1208.3 1105.2 1206.0 1109.1C1203.7 1113.0 1201.5 1116.3 1199.3 1119.1C1197.1 1121.9 1195.6 1124.0 1192.6 1125.8C1189.6 1127.6 1184.8 1129.0 1181.5 1129.7C1178.2 1130.5 1175.9 1130.6 1172.6 1130.3C1169.2 1130.0 1165.1 1129.2 1161.4 1128.1C1157.7 1127.0 1154.0 1125.1 1150.3 1123.6C1146.6 1122.1 1142.6 1120.4 1139.1 1119.1C1135.6 1117.8 1132.3 1116.8 1129.1 1115.8C1125.9 1114.8 1121.9 1114.1 1120.2 1113.1Z" fill="url(#shv)" stroke="none"/>
<path d="M1181.5 1129.7C1180.0 1129.8 1175.9 1130.6 1172.6 1130.3C1169.2 1130.0 1165.1 1129.2 1161.4 1128.1C1157.7 1127.0 1154.0 1125.1 1150.3 1123.6C1146.6 1122.1 1142.6 1120.4 1139.1 1119.1C1135.6 1117.8 1130.8 1116.3 1129.1 1115.8" fill="none" stroke="#007050" stroke-opacity="0.85" stroke-width="2" stroke-linecap="round"/>
</g></g>
<g class="b" font-size="20.2" fill="#000" text-anchor="middle">
<text x="610.3" y="654.2">pI</text>
<text x="922.8" y="654.2">pI</text>
<text x="1223.5" y="654.2">pI</text>
<text x="697.2" y="654.2">µH</text>
<text x="1010.0" y="654.2">µH</text>
<text x="1310.5" y="654.2">µH</text>
</g><g class="b" font-size="21.2" fill="#000" text-anchor="middle">
<text x="609.0" y="704.6">9.53</text>
<text x="698.2" y="704.6">0.256</text>
<text x="922.5" y="704.6">6.75</text>
<text x="1011.0" y="704.6">0.483</text>
<text x="1222.5" y="704.6">8.51</text>
<text x="1311.5" y="704.6">0.399</text>
</g>
<g font-size="30.8" fill="#0c0c0c" stroke="#0c0c0c" stroke-width="0.4">
<text x="378.2" y="1245.8" textLength="176.4" lengthAdjust="spacingAndGlyphs">Ocellatin K-1</text>
<text x="695.3" y="1245.8" textLength="262.6" lengthAdjust="spacingAndGlyphs">Ocellatin K-1(1-16)</text>
<text x="1044.6" y="1245.8" textLength="261.6" lengthAdjust="spacingAndGlyphs">Ocellatin K-1(1-21)</text>
</g>
<text class="b" font-size="58.5" transform="translate(246.2 1176.2) scale(0.93 1)">C</text>
</g>
</svg></body></html>
